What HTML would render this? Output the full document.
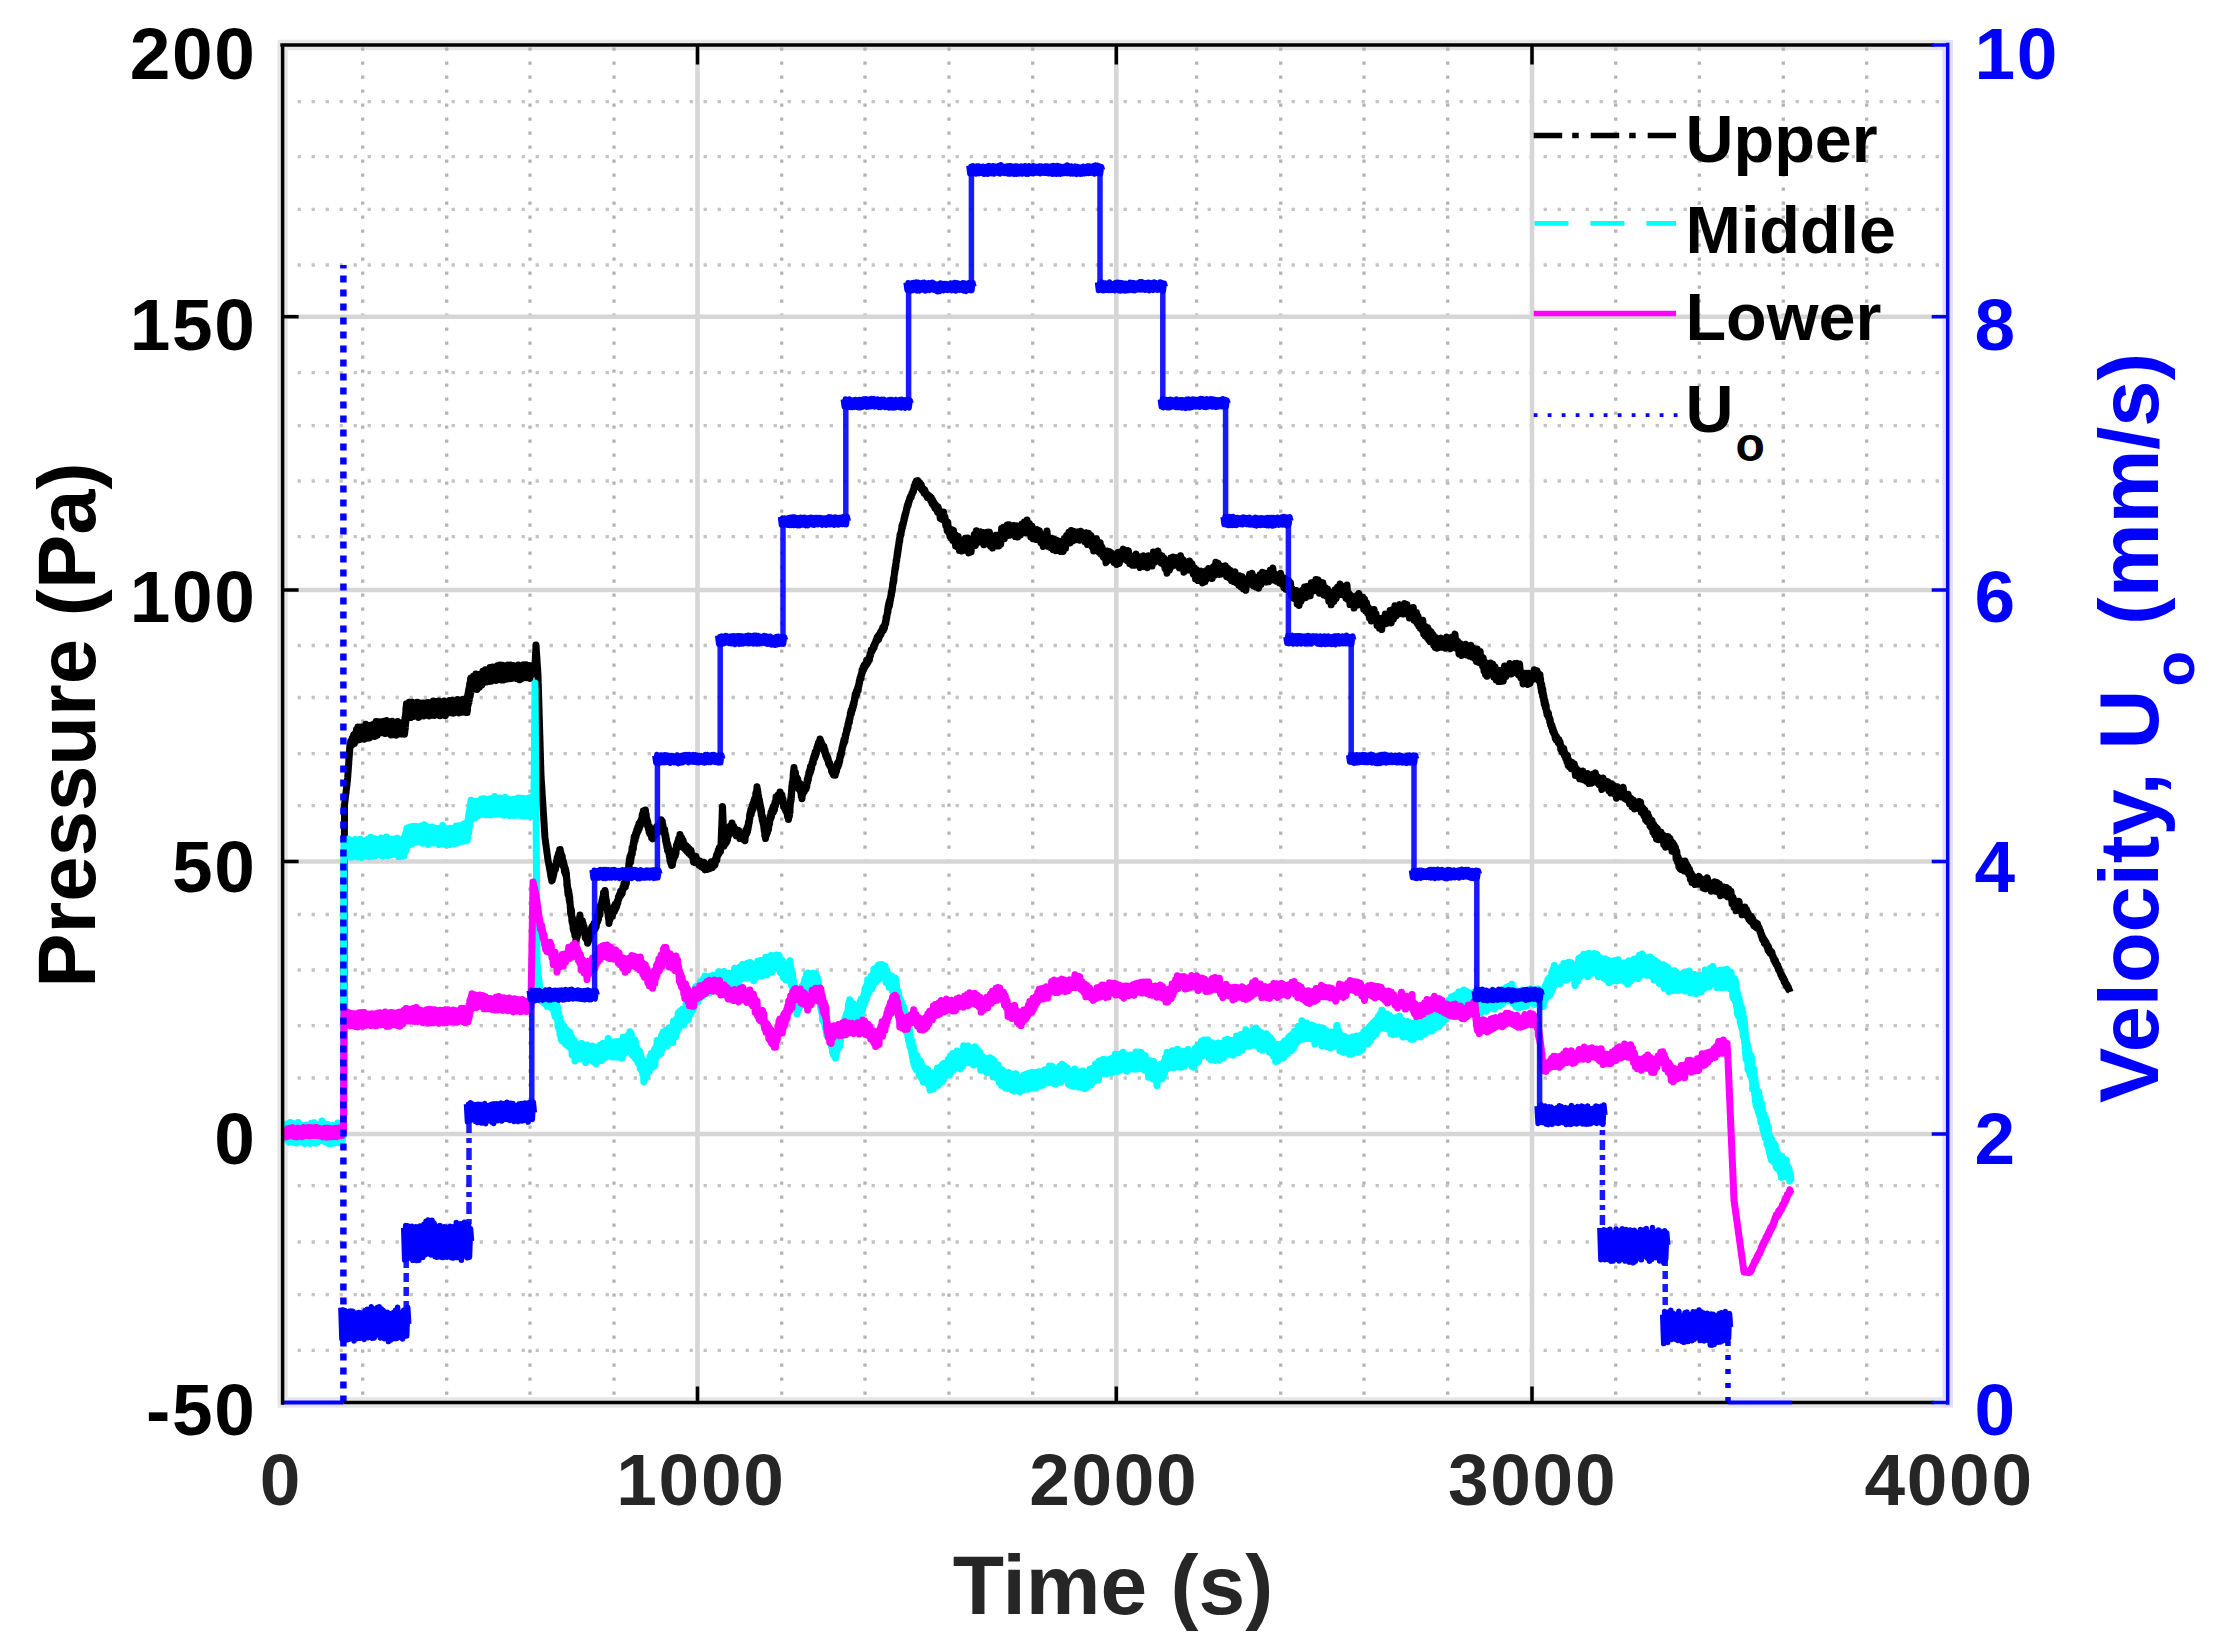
<!DOCTYPE html>
<html><head><meta charset="utf-8"><title>Pressure and velocity</title>
<style>html,body{margin:0;padding:0;background:#fff}svg{display:block}text{font-family:"Liberation Sans",sans-serif;font-weight:bold}</style></head>
<body>
<svg width="2220" height="1643" viewBox="0 0 2220 1643">
<rect width="2220" height="1643" fill="#fff"/>
<g fill="none" stroke-width="10.5">
<path d="M277.6 45.0H1947.7M277.6 1402.5H1947.7M282.6 45.0V1402.5" stroke="#e6e6e6"/>
<path d="M1947.7 40.0V1407.5" stroke="#dedeff"/>
</g>
<g stroke="#b4b4b4" stroke-width="3.3" stroke-dasharray="3.3 10.7" fill="none">
<line x1="362.7" y1="47.5" x2="362.7" y2="1402.5"/>
<line x1="446.7" y1="47.5" x2="446.7" y2="1402.5"/>
<line x1="530.0" y1="47.5" x2="530.0" y2="1402.5"/>
<line x1="614.0" y1="47.5" x2="614.0" y2="1402.5"/>
<line x1="781.7" y1="47.5" x2="781.7" y2="1402.5"/>
<line x1="865.0" y1="47.5" x2="865.0" y2="1402.5"/>
<line x1="949.0" y1="47.5" x2="949.0" y2="1402.5"/>
<line x1="1032.7" y1="47.5" x2="1032.7" y2="1402.5"/>
<line x1="1196.7" y1="47.5" x2="1196.7" y2="1402.5"/>
<line x1="1280.7" y1="47.5" x2="1280.7" y2="1402.5"/>
<line x1="1364.0" y1="47.5" x2="1364.0" y2="1402.5"/>
<line x1="1447.7" y1="47.5" x2="1447.7" y2="1402.5"/>
<line x1="1615.7" y1="47.5" x2="1615.7" y2="1402.5"/>
<line x1="1699.3" y1="47.5" x2="1699.3" y2="1402.5"/>
<line x1="1783.3" y1="47.5" x2="1783.3" y2="1402.5"/>
<line x1="1866.7" y1="47.5" x2="1866.7" y2="1402.5"/>
</g>
<g stroke="#c4c4c4" stroke-width="3.3" stroke-dasharray="3.3 10.7" fill="none">
<line x1="297.6" y1="101.7" x2="1947.7" y2="101.7"/>
<line x1="297.6" y1="156.7" x2="1947.7" y2="156.7"/>
<line x1="297.6" y1="209.3" x2="1947.7" y2="209.3"/>
<line x1="297.6" y1="265.0" x2="1947.7" y2="265.0"/>
<line x1="297.6" y1="372.7" x2="1947.7" y2="372.7"/>
<line x1="297.6" y1="425.7" x2="1947.7" y2="425.7"/>
<line x1="297.6" y1="481.0" x2="1947.7" y2="481.0"/>
<line x1="297.6" y1="536.7" x2="1947.7" y2="536.7"/>
<line x1="297.6" y1="645.5" x2="1947.7" y2="645.5"/>
<line x1="297.6" y1="697.5" x2="1947.7" y2="697.5"/>
<line x1="297.6" y1="753.7" x2="1947.7" y2="753.7"/>
<line x1="297.6" y1="805.7" x2="1947.7" y2="805.7"/>
<line x1="297.6" y1="914.5" x2="1947.7" y2="914.5"/>
<line x1="297.6" y1="970.0" x2="1947.7" y2="970.0"/>
<line x1="297.6" y1="1025.7" x2="1947.7" y2="1025.7"/>
<line x1="297.6" y1="1078.0" x2="1947.7" y2="1078.0"/>
<line x1="297.6" y1="1185.7" x2="1947.7" y2="1185.7"/>
<line x1="297.6" y1="1242.0" x2="1947.7" y2="1242.0"/>
<line x1="297.6" y1="1294.6" x2="1947.7" y2="1294.6"/>
<line x1="297.6" y1="1350.3" x2="1947.7" y2="1350.3"/>
</g>
<g stroke="#d6d6d6" stroke-width="4.6" fill="none">
<line x1="697.5" y1="45.0" x2="697.5" y2="1402.5"/>
<line x1="1116.3" y1="45.0" x2="1116.3" y2="1402.5"/>
<line x1="1532.0" y1="45.0" x2="1532.0" y2="1402.5"/>
<line x1="282.6" y1="316.7" x2="1947.7" y2="316.7"/>
<line x1="282.6" y1="590.0" x2="1947.7" y2="590.0"/>
<line x1="282.6" y1="861.5" x2="1947.7" y2="861.5"/>
<line x1="282.6" y1="1134.0" x2="1947.7" y2="1134.0"/>
</g>
<g fill="none" stroke-linejoin="round" stroke-linecap="butt">
<polyline stroke="#000" stroke-width="7" points="285.0,1132.0 286.3,1132.0 287.6,1132.0 288.9,1132.0 290.2,1132.0 291.5,1132.0 292.8,1132.0 294.1,1132.0 295.4,1132.0 296.7,1132.0 298.0,1132.0 299.3,1132.0 300.6,1132.0 301.9,1132.0 303.2,1132.0 304.5,1132.0 305.8,1132.0 307.1,1132.0 308.4,1132.0 309.7,1132.0 311.0,1132.0 312.3,1132.0 313.6,1132.0 314.9,1132.0 316.2,1132.0 317.5,1132.0 318.8,1132.0 320.1,1132.0 321.4,1132.0 322.7,1132.0 324.0,1132.0 325.3,1132.0 326.6,1132.0 327.9,1132.0 329.2,1132.0 330.5,1132.0 331.8,1132.0 333.1,1132.0 334.4,1132.0 335.7,1132.0 337.0,1132.0 338.3,1132.0 339.6,1132.0 340.9,1132.0 342.2,1132.0 343.5,1132.0 343.5,1130.7 343.5,1129.4 343.5,1128.1 343.5,1126.8 343.5,1125.5 343.5,1124.2 343.5,1122.9 343.5,1121.6 343.5,1120.3 343.5,1119.0 343.5,1117.7 343.5,1116.4 343.6,1115.1 343.6,1113.8 343.6,1112.5 343.6,1111.2 343.6,1109.9 343.6,1108.5 343.6,1107.2 343.6,1105.9 343.6,1104.6 343.6,1103.3 343.6,1102.0 343.6,1100.7 343.6,1099.4 343.6,1098.1 343.6,1096.8 343.6,1095.5 343.6,1094.2 343.6,1092.9 343.6,1091.6 343.6,1090.3 343.6,1089.0 343.6,1087.7 343.6,1086.4 343.6,1085.1 343.6,1083.8 343.7,1082.5 343.7,1081.2 343.7,1079.9 343.7,1078.6 343.7,1077.3 343.7,1076.0 343.7,1074.7 343.7,1073.4 343.7,1072.1 343.7,1070.8 343.7,1069.5 343.7,1068.2 343.7,1066.9 343.7,1065.6 343.7,1064.3 343.7,1063.0 343.7,1061.6 343.7,1060.3 343.7,1059.0 343.7,1057.7 343.7,1056.4 343.7,1055.1 343.7,1053.8 343.7,1052.5 343.7,1051.2 343.8,1049.9 343.8,1048.6 343.8,1047.3 343.8,1046.0 343.8,1044.7 343.8,1043.4 343.8,1042.1 343.8,1040.8 343.8,1039.5 343.8,1038.2 343.8,1036.9 343.8,1035.6 343.8,1034.3 343.8,1033.0 343.8,1031.7 343.8,1030.4 343.8,1029.1 343.8,1027.8 343.8,1026.5 343.8,1025.2 343.8,1023.9 343.8,1022.6 343.8,1021.3 343.8,1020.0 343.8,1018.7 343.9,1017.4 343.9,1016.1 343.9,1014.7 343.9,1013.4 343.9,1012.1 343.9,1010.8 343.9,1009.5 343.9,1008.2 343.9,1006.9 343.9,1005.6 343.9,1004.3 343.9,1003.0 343.9,1001.7 343.9,1000.4 343.9,999.1 343.9,997.8 343.9,996.5 343.9,995.2 343.9,993.9 343.9,992.6 343.9,991.3 343.9,990.0 343.9,988.7 343.9,987.4 343.9,986.1 344.0,984.8 344.0,983.5 344.0,982.2 344.0,980.9 344.0,979.6 344.0,978.3 344.0,977.0 344.0,975.7 344.0,974.4 344.0,973.1 344.0,971.8 344.0,970.5 344.0,969.2 344.0,967.8 344.0,966.5 344.0,965.2 344.0,963.9 344.0,962.6 344.0,961.3 344.0,960.0 344.0,958.7 344.0,957.4 344.0,956.1 344.0,954.8 344.0,953.5 344.0,952.2 344.1,950.9 344.1,949.6 344.1,948.3 344.1,947.0 344.1,945.7 344.1,944.4 344.1,943.1 344.1,941.8 344.1,940.5 344.1,939.2 344.1,937.9 344.1,936.6 344.1,935.3 344.1,934.0 344.1,932.7 344.1,931.4 344.1,930.1 344.1,928.8 344.1,927.5 344.1,926.2 344.1,924.9 344.1,923.6 344.1,922.3 344.1,920.9 344.1,919.6 344.2,918.3 344.2,917.0 344.2,915.7 344.2,914.4 344.2,913.1 344.2,911.8 344.2,910.5 344.2,909.2 344.2,907.9 344.2,906.6 344.2,905.3 344.2,904.0 344.2,902.7 344.2,901.4 344.2,900.1 344.2,898.8 344.2,897.5 344.2,896.2 344.2,894.9 344.2,893.6 344.2,892.3 344.2,891.0 344.2,889.7 344.2,888.4 344.2,887.1 344.3,885.8 344.3,884.5 344.3,883.2 344.3,881.9 344.3,880.6 344.3,879.3 344.3,878.0 344.3,876.7 344.3,875.4 344.3,874.0 344.3,872.7 344.3,871.4 344.3,870.1 344.3,868.8 344.3,867.5 344.3,866.2 344.3,864.9 344.3,863.6 344.3,862.3 344.3,861.0 344.3,859.7 344.3,858.4 344.3,857.1 344.3,855.8 344.3,854.5 344.4,853.2 344.4,851.9 344.4,850.6 344.4,849.3 344.4,848.0 344.4,846.7 344.4,845.4 344.4,844.1 344.4,842.8 344.4,841.5 344.4,840.2 344.4,838.9 344.4,837.6 344.4,836.3 344.4,835.0 344.4,833.7 344.4,832.4 344.4,831.1 344.4,829.8 344.4,828.5 344.4,827.1 344.4,825.8 344.4,824.5 344.4,823.2 344.4,821.9 344.5,820.6 344.5,819.3 344.5,818.0 344.5,816.7 344.5,815.4 344.5,814.1 344.5,812.8 344.5,811.5 344.5,810.2 344.5,808.9 344.5,807.6 344.5,806.3 344.5,805.0 344.7,803.7 344.8,802.4 345.0,801.1 345.1,799.7 345.3,798.4 345.4,797.1 345.6,795.8 345.8,794.5 345.9,793.2 346.1,791.8 346.2,790.5 346.4,789.2 346.6,787.9 346.7,786.6 346.9,785.3 347.0,783.9 347.2,782.6 347.3,781.3 347.5,780.0 347.6,778.6 347.7,777.5 347.8,775.7 347.9,774.9 348.0,772.9 348.1,772.3 348.2,769.9 348.3,769.8 348.4,767.2 348.5,767.5 348.6,764.4 348.7,764.8 348.8,761.7 348.8,762.4 348.9,758.6 349.0,759.9 349.1,755.6 349.2,757.0 349.3,753.0 349.4,755.1 349.5,750.3 349.6,752.1 349.7,747.1 349.8,749.6 349.9,745.0 350.0,747.1 350.7,741.2 351.5,745.6 352.2,738.3 352.9,744.3 353.6,735.1 354.4,743.6 355.1,733.4 355.8,741.0 356.5,729.5 357.3,739.7 358.0,727.1 359.3,739.8 360.6,727.0 361.9,738.5 363.2,726.8 364.5,739.3 365.8,724.3 367.1,738.2 368.4,726.1 369.6,737.9 370.9,725.3 372.2,735.7 373.5,724.3 374.8,736.5 376.1,721.4 377.4,735.2 378.7,721.8 380.0,732.4 381.4,721.7 382.7,732.8 384.1,721.3 385.4,733.6 386.8,720.5 388.2,732.1 389.5,722.0 390.9,735.0 392.2,721.3 393.6,734.7 395.0,723.4 396.3,735.2 397.7,721.6 399.1,733.9 400.4,722.9 401.8,734.0 403.1,722.2 404.5,734.2 404.7,720.4 404.8,732.5 405.0,717.6 405.1,729.7 405.3,716.4 405.4,727.9 405.6,713.4 405.7,723.2 405.9,708.6 406.0,721.3 406.2,706.1 406.3,719.5 406.5,703.7 407.8,717.4 409.2,702.3 410.5,717.6 411.9,702.3 413.2,716.6 414.5,703.0 415.9,716.0 417.2,702.3 418.6,717.4 419.9,702.9 421.2,716.0 422.6,703.0 423.9,715.9 425.3,703.0 426.6,715.2 427.9,702.4 429.3,715.9 430.6,702.4 432.0,715.3 433.3,701.1 434.6,715.4 436.0,701.6 437.3,714.8 438.7,700.9 440.0,715.8 441.4,701.9 442.7,714.1 444.1,701.0 445.4,715.7 446.8,701.9 448.1,712.4 449.4,700.6 450.8,712.8 452.1,700.2 453.5,713.2 454.9,701.0 456.2,711.8 457.6,699.5 458.9,712.9 460.2,700.6 461.6,712.3 462.9,699.2 464.3,712.2 465.6,699.6 467.0,712.6 467.2,697.3 467.5,710.3 467.7,695.1 467.9,705.8 468.2,692.4 468.4,703.9 468.6,689.9 468.9,702.4 469.1,687.8 469.4,699.4 469.6,683.9 469.8,697.0 470.1,682.4 470.3,695.6 470.5,679.1 470.8,692.7 471.0,677.9 472.2,689.6 473.4,676.3 474.6,688.7 475.8,674.0 477.0,689.6 478.1,674.6 479.3,687.4 480.5,674.3 481.7,685.3 482.9,671.3 484.1,682.6 485.3,669.8 486.5,682.1 487.7,670.0 488.9,681.6 490.0,667.5 491.2,681.2 492.4,666.9 493.6,679.3 494.8,667.4 496.0,680.4 497.3,665.7 498.6,679.0 499.9,665.0 501.2,680.0 502.5,665.3 503.8,680.0 505.2,666.5 506.5,679.2 507.8,665.0 509.1,678.8 510.4,665.0 511.7,678.5 513.0,665.4 514.3,678.0 515.6,666.7 516.9,678.5 518.2,665.1 519.5,679.8 520.8,666.1 522.2,678.5 523.5,664.8 524.8,677.0 526.1,664.7 527.4,677.8 528.7,665.6 530.0,678.5 531.2,665.8 532.5,674.6 533.8,665.1 535.0,671.2 535.1,663.9 535.1,668.2 535.2,660.8 535.2,664.9 535.3,658.6 535.4,662.0 535.4,656.7 535.5,659.0 535.5,654.1 535.6,655.9 535.6,652.3 535.7,652.8 535.8,649.8 535.8,649.6 535.9,647.4 535.9,646.5 536.0,645.0 536.1,646.3 536.2,647.6 536.3,648.9 536.3,650.2 536.4,651.5 536.5,652.8 536.6,654.1 536.7,655.4 536.8,656.7 536.9,658.0 537.0,659.3 537.0,660.7 537.1,662.0 537.2,663.3 537.3,664.6 537.4,665.9 537.5,667.2 537.6,668.5 537.7,669.8 537.7,671.1 537.8,672.4 537.9,673.7 538.0,675.0 538.0,676.3 538.1,677.6 538.1,678.9 538.2,680.3 538.2,681.6 538.2,682.9 538.3,684.2 538.3,685.5 538.4,686.8 538.4,688.2 538.4,689.5 538.5,690.8 538.5,692.1 538.6,693.4 538.6,694.7 538.6,696.1 538.7,697.4 538.7,698.7 538.8,700.0 538.8,701.3 538.8,702.6 538.9,703.9 538.9,705.3 538.9,706.6 539.0,707.9 539.0,709.2 539.1,710.5 539.1,711.8 539.1,713.2 539.2,714.5 539.2,715.8 539.3,717.1 539.3,718.4 539.3,719.7 539.4,721.1 539.4,722.4 539.5,723.7 539.5,725.0 539.5,726.3 539.6,727.6 539.6,728.9 539.7,730.3 539.7,731.6 539.7,732.9 539.8,734.2 539.8,735.5 539.9,736.8 539.9,738.2 539.9,739.5 540.0,740.8 540.0,742.1 540.1,743.4 540.1,744.7 540.1,746.1 540.2,747.4 540.2,748.7 540.2,750.0 540.3,751.3 540.3,752.6 540.4,753.9 540.4,755.3 540.4,756.6 540.5,757.9 540.5,759.2 540.6,760.5 540.6,761.8 540.6,763.2 540.7,764.5 540.7,765.8 540.8,767.1 540.8,768.4 540.8,769.7 540.9,771.1 540.9,772.4 541.0,773.7 541.0,775.0 541.1,776.3 541.2,777.6 541.2,778.9 541.3,780.2 541.4,781.6 541.5,782.9 541.6,784.2 541.7,785.5 541.8,786.8 541.8,788.1 541.9,789.4 542.0,790.8 542.1,792.1 542.2,793.4 542.2,794.7 542.3,796.0 542.4,797.3 542.5,798.6 542.6,799.9 542.7,801.2 542.8,802.6 542.8,803.9 542.9,805.2 543.0,806.5 543.1,807.8 543.2,809.1 543.2,810.4 543.3,811.8 543.4,813.1 543.5,814.4 543.6,815.7 543.7,817.0 543.8,818.3 543.8,819.6 543.9,820.9 544.0,822.2 544.1,823.6 544.2,824.9 544.2,826.2 544.3,827.5 544.4,828.8 544.5,830.1 544.6,831.4 544.7,832.8 544.8,834.1 544.8,835.4 544.9,836.7 545.0,838.0 545.2,839.3 545.4,840.6 545.5,841.9 545.7,843.2 545.9,844.5 546.1,845.8 546.2,847.1 546.4,848.4 546.6,849.6 546.8,850.9 546.9,852.2 547.1,853.5 547.3,854.8 547.5,856.1 547.6,857.4 547.8,858.7 548.0,860.0 548.2,861.2 548.5,862.6 548.7,863.6 548.9,865.2 549.2,866.1 549.4,867.9 549.6,868.4 549.9,870.4 550.1,870.9 550.4,873.4 550.6,873.7 550.8,876.2 551.1,875.8 551.3,878.5 551.5,878.1 551.8,880.9 552.0,880.6 552.3,880.4 552.6,877.5 553.0,877.8 553.3,874.4 553.6,875.8 553.9,871.8 554.2,872.4 554.6,867.9 554.9,869.8 555.2,865.5 555.5,869.3 555.8,864.6 556.2,866.6 556.5,861.1 556.8,862.7 557.1,858.0 557.4,860.5 557.8,856.0 558.1,859.3 558.4,853.8 558.7,859.0 559.0,852.4 559.4,854.7 559.7,849.8 560.0,853.7 560.3,849.6 560.6,856.2 560.9,852.4 561.3,859.0 561.6,855.1 561.9,861.8 562.2,856.0 562.5,862.6 562.8,859.9 563.2,866.0 563.5,861.6 563.8,867.2 564.1,864.2 564.4,871.3 564.7,866.8 565.1,873.4 565.4,868.5 565.7,874.7 566.0,870.9 566.2,876.6 566.4,873.2 566.6,879.5 566.7,877.3 566.9,885.4 567.1,880.6 567.3,887.4 567.5,885.0 567.7,891.8 567.9,888.3 568.0,894.4 568.2,889.2 568.4,895.0 568.6,890.4 568.8,896.6 569.0,892.9 569.1,899.4 569.3,894.6 569.5,901.5 569.7,896.9 569.9,903.3 570.1,901.8 570.3,908.0 570.4,905.5 570.6,913.2 570.8,908.1 571.0,914.9 571.2,909.3 571.4,914.8 571.6,911.0 571.8,920.8 572.0,916.7 572.2,922.6 572.5,918.1 572.7,923.7 572.9,921.3 573.1,928.3 573.3,923.5 573.5,930.1 573.7,926.5 573.9,930.2 574.1,927.1 574.3,932.3 574.5,928.1 574.8,935.4 575.0,930.4 575.2,934.9 575.4,931.9 575.6,936.7 575.8,935.9 576.0,943.1 576.2,936.1 576.4,939.8 576.6,934.2 576.8,937.8 577.1,932.0 577.3,936.7 577.5,930.2 577.7,934.6 577.9,927.4 578.1,931.8 578.3,926.8 578.5,929.4 578.7,923.4 578.9,926.0 579.2,921.7 579.4,924.0 579.6,917.1 579.8,921.4 580.0,915.1 580.4,922.7 580.8,919.4 581.2,924.3 581.6,921.1 582.0,926.3 582.4,920.7 582.8,927.4 583.2,923.7 583.6,930.2 584.0,926.3 584.4,933.5 584.8,930.8 585.2,937.6 585.6,933.0 586.0,938.7 586.4,933.1 586.8,939.2 587.2,937.2 587.6,943.2 588.0,938.7 588.5,941.5 589.0,935.9 589.5,939.3 590.0,933.6 590.5,936.4 591.0,928.7 591.5,933.1 592.0,926.7 592.5,932.0 593.0,925.5 593.5,929.8 594.0,923.5 594.5,929.6 595.0,924.0 595.4,928.4 595.8,922.8 596.2,926.9 596.5,920.4 596.9,923.3 597.3,916.8 597.7,921.6 598.1,915.5 598.5,919.4 598.8,911.6 599.2,916.4 599.6,909.0 600.0,914.6 600.4,905.5 600.8,908.2 601.2,904.0 601.5,908.3 601.9,900.7 602.3,904.4 602.7,897.6 603.1,900.3 603.5,892.7 603.8,898.4 604.2,892.4 604.6,896.2 605.0,890.6 605.2,896.6 605.4,892.5 605.6,900.0 605.8,897.2 606.0,903.8 606.1,899.8 606.3,905.9 606.5,900.6 606.7,907.5 606.9,903.8 607.1,909.5 607.3,905.8 607.5,912.0 607.7,907.6 607.9,913.9 608.0,910.1 608.2,916.9 608.4,912.0 608.6,919.1 608.8,916.1 609.0,923.5 609.6,917.8 610.1,919.7 610.7,913.3 611.2,916.7 611.8,913.2 612.3,916.9 612.9,910.1 613.4,913.2 614.0,906.7 614.5,911.4 615.1,904.6 615.6,909.1 616.2,903.6 616.7,906.8 617.3,900.9 617.8,903.5 618.4,897.1 618.9,899.3 619.5,894.4 620.0,896.7 620.6,891.2 621.1,895.2 621.7,890.2 622.2,893.7 622.8,887.6 623.3,889.4 623.9,883.5 624.4,887.8 625.0,883.1 625.3,886.8 625.5,881.2 625.8,884.9 626.1,878.8 626.4,883.2 626.6,877.1 626.9,879.3 627.2,873.7 627.4,876.4 627.7,870.4 628.0,875.6 628.2,868.6 628.5,870.6 628.8,863.8 629.1,866.7 629.3,859.6 629.6,863.4 629.9,856.7 630.1,861.9 630.4,856.6 630.7,862.0 630.9,854.2 631.2,858.4 631.5,852.4 631.8,854.9 632.0,848.0 632.3,853.8 632.6,847.4 632.8,850.1 633.1,844.1 633.4,848.7 633.6,841.1 633.9,844.5 634.2,836.8 634.5,841.5 634.7,836.3 635.0,840.6 635.6,833.6 636.1,837.0 636.7,830.0 637.2,833.3 637.8,826.9 638.3,831.0 638.9,823.8 639.4,828.5 640.0,822.3 640.6,825.3 641.1,820.0 641.7,822.4 642.2,814.7 642.8,818.5 643.3,811.1 643.9,816.2 644.4,810.4 645.0,813.1 645.4,810.0 645.8,815.9 646.2,813.9 646.6,821.4 647.1,819.2 647.5,825.8 647.9,822.0 648.3,828.6 648.7,826.9 649.1,832.0 649.5,826.4 649.9,833.7 650.4,828.1 650.8,833.8 651.2,830.6 651.6,837.9 652.0,834.7 652.8,838.9 653.5,834.3 654.3,836.6 655.1,830.5 655.8,834.2 656.6,826.8 657.4,832.7 658.2,825.4 658.9,829.7 659.7,823.2 660.5,826.8 661.2,819.8 662.0,824.7 662.3,821.2 662.6,828.9 662.9,824.7 663.2,831.0 663.5,828.5 663.8,833.1 664.1,828.8 664.4,832.6 664.7,829.5 665.0,836.9 665.3,833.6 665.6,841.0 665.9,835.6 666.2,843.5 666.5,839.2 666.8,846.8 667.2,842.8 667.5,850.4 667.8,844.7 668.1,851.1 668.4,847.1 668.7,853.1 669.0,849.5 669.3,856.3 669.6,852.7 669.9,860.2 670.2,856.1 670.5,862.4 670.8,856.6 671.1,864.2 671.4,859.4 671.7,865.5 672.0,861.9 672.4,865.1 672.7,857.8 673.1,861.0 673.5,855.4 673.8,858.8 674.2,851.3 674.5,856.8 674.9,850.9 675.3,855.9 675.6,849.2 676.0,853.4 676.4,845.5 676.7,848.2 677.1,843.7 677.5,847.8 677.8,841.8 678.2,847.4 678.5,839.1 678.9,842.5 679.3,837.4 679.6,841.3 680.0,834.4 680.8,839.6 681.6,837.5 682.4,843.9 683.2,840.3 683.9,847.9 684.7,844.1 685.5,849.7 686.3,845.6 687.1,851.4 687.9,847.3 688.7,853.2 689.5,848.9 690.3,854.9 691.1,850.3 691.8,856.3 692.6,855.2 693.4,861.7 694.2,856.8 695.0,862.8 696.0,856.3 697.0,862.6 698.0,860.1 699.0,865.1 700.0,860.8 701.0,866.4 702.0,862.5 703.0,867.7 704.0,862.3 705.0,869.9 706.2,864.4 707.5,869.4 708.8,864.0 710.0,868.6 711.2,861.8 712.5,867.6 713.8,862.0 715.0,865.2 715.5,858.8 715.9,861.1 716.4,855.6 716.8,860.3 717.3,853.4 717.8,856.0 718.2,850.5 718.7,854.3 719.2,848.0 719.6,851.4 720.1,846.9 720.5,851.5 721.0,844.2 721.1,847.3 721.1,841.3 721.2,844.6 721.2,838.0 721.3,842.2 721.3,835.5 721.4,838.7 721.4,832.7 721.5,836.9 721.5,829.0 721.6,833.4 721.6,827.2 721.7,831.1 721.7,826.2 721.8,830.1 721.8,823.7 721.9,827.5 721.9,820.5 722.0,826.0 722.0,819.0 722.1,821.5 722.1,814.7 722.2,818.2 722.2,811.5 722.3,815.7 722.3,808.8 722.4,813.0 722.4,806.5 722.5,810.4 722.6,807.0 722.6,814.4 722.7,810.2 722.7,815.9 722.8,813.3 722.8,819.3 722.9,814.5 722.9,819.8 723.0,816.8 723.0,823.6 723.1,819.7 723.1,827.1 723.2,821.4 723.2,826.2 723.3,824.1 723.3,830.1 723.4,825.7 723.4,832.9 723.5,829.2 723.5,834.9 723.6,832.5 723.6,839.4 723.7,836.4 723.7,841.9 723.8,838.3 723.8,843.6 723.9,839.2 723.9,846.3 724.0,841.1 724.5,845.1 725.0,839.7 725.5,843.7 726.0,836.3 726.5,842.0 727.0,837.4 727.5,840.3 728.0,832.5 728.5,836.1 729.0,830.2 729.5,832.4 730.0,826.2 730.5,830.5 731.0,825.2 731.5,829.1 732.0,823.1 732.9,829.9 733.7,826.2 734.6,833.5 735.5,828.9 736.3,835.8 737.2,830.8 738.1,835.8 738.9,830.5 739.8,838.5 740.7,832.7 741.5,838.6 742.4,835.6 743.3,839.6 744.1,835.7 745.0,840.7 745.3,832.7 745.6,836.0 745.9,830.1 746.2,833.6 746.5,831.0 746.8,833.5 747.2,827.6 747.5,831.8 747.8,826.0 748.1,829.2 748.4,822.4 748.7,825.8 749.0,820.6 749.3,822.5 749.6,814.9 749.9,818.5 750.2,812.2 750.5,815.4 750.8,809.8 751.2,814.7 751.5,808.6 751.8,812.2 752.1,806.0 752.4,809.9 752.7,804.3 753.0,809.0 753.3,802.8 753.6,806.9 753.9,801.1 754.2,805.5 754.5,799.1 754.8,804.4 755.2,798.3 755.5,800.4 755.8,793.2 756.1,796.0 756.4,791.4 756.7,793.0 757.0,786.8 757.2,792.1 757.5,789.3 757.8,796.2 758.0,792.3 758.2,799.2 758.5,795.7 758.8,802.3 759.0,798.7 759.2,803.7 759.5,800.1 759.8,805.2 760.0,802.8 760.2,808.9 760.5,805.5 760.8,811.7 761.0,807.4 761.2,815.0 761.5,810.2 761.8,817.4 762.0,814.9 762.2,820.2 762.5,816.2 762.8,822.2 763.0,818.6 763.2,823.9 763.5,820.5 763.8,827.6 764.0,823.1 764.2,830.7 764.5,827.2 764.8,835.5 765.0,833.4 765.5,838.6 766.0,831.0 766.5,835.0 767.0,827.5 767.5,832.4 768.0,825.4 768.5,829.5 769.0,822.1 769.5,824.6 770.0,816.5 770.5,819.6 771.0,812.5 771.5,816.8 772.0,810.0 772.5,813.3 773.0,806.9 773.5,811.9 774.0,805.5 774.5,809.7 775.0,802.2 775.5,805.8 776.0,797.1 776.5,802.5 777.0,796.8 777.5,798.7 778.0,795.0 778.5,801.1 779.0,795.3 779.5,798.6 780.0,791.9 780.5,797.2 781.0,795.2 781.5,800.5 782.0,795.1 782.5,802.1 783.0,798.9 783.5,806.4 784.0,802.9 784.5,808.1 785.0,805.1 785.5,810.4 786.0,806.6 786.5,812.1 787.0,809.3 787.5,816.4 788.0,812.7 788.5,819.5 789.0,814.1 789.1,816.7 789.3,810.2 789.4,816.1 789.6,809.9 789.7,814.4 789.8,807.6 790.0,811.8 790.1,804.4 790.2,806.7 790.4,800.7 790.5,803.0 790.7,798.6 790.8,801.6 790.9,796.8 791.1,800.5 791.2,794.1 791.4,798.5 791.5,790.3 791.6,794.9 791.8,786.4 791.9,790.5 792.1,784.6 792.2,790.0 792.3,782.6 792.5,788.4 792.6,782.4 792.8,785.8 792.9,778.8 793.0,782.2 793.2,773.9 793.3,778.8 793.4,772.1 793.6,775.0 793.7,769.7 793.9,772.9 794.0,767.5 794.4,772.3 794.8,770.8 795.1,777.8 795.5,772.6 795.9,780.0 796.3,778.4 796.7,782.6 797.0,777.7 797.4,784.0 797.8,779.3 798.2,785.5 798.6,782.2 799.0,789.1 799.3,784.6 799.7,787.7 800.1,783.8 800.5,791.9 800.9,788.8 801.2,796.0 801.6,792.7 802.0,798.7 802.4,791.5 802.8,794.6 803.2,788.7 803.6,790.9 804.0,786.8 804.4,791.5 804.8,786.0 805.2,789.6 805.6,784.9 806.0,788.9 806.4,783.6 806.8,786.7 807.2,779.6 807.6,782.6 808.0,776.8 808.4,779.7 808.8,772.8 809.2,775.6 809.6,770.3 810.0,773.4 810.4,766.7 810.8,771.2 811.2,765.5 811.6,768.6 812.0,763.1 812.4,764.6 812.8,760.0 813.2,763.3 813.6,757.2 814.0,758.7 814.4,754.7 814.8,757.9 815.2,752.1 815.6,756.0 816.0,751.5 816.4,753.8 816.8,747.9 817.2,750.7 817.6,745.5 818.0,748.3 818.4,743.1 818.8,745.7 819.2,741.4 819.6,743.8 820.0,739.1 820.5,743.7 821.0,740.9 821.5,745.7 822.0,743.8 822.5,748.3 823.0,745.1 823.5,748.9 824.0,746.5 824.5,752.0 825.0,749.6 825.5,755.3 826.0,753.4 826.5,757.8 827.0,755.7 827.5,759.8 828.0,757.8 828.5,763.5 829.0,761.3 829.5,765.4 830.0,763.5 830.5,767.1 831.0,765.7 831.5,770.8 832.0,768.0 832.5,772.9 833.0,770.3 833.5,775.0 834.0,771.8 834.5,775.0 835.0,773.5 835.3,775.3 835.6,770.7 836.0,773.1 836.3,769.0 836.6,771.1 836.9,766.3 837.2,767.6 837.6,762.9 837.9,767.1 838.2,762.4 838.5,765.4 838.8,761.3 839.1,763.8 839.5,758.4 839.8,761.0 840.1,754.9 840.4,757.2 840.7,753.4 841.1,755.8 841.4,751.2 841.7,753.4 842.0,747.9 842.3,749.5 842.7,745.0 843.0,746.6 843.3,742.4 843.6,744.4 843.9,739.7 844.3,742.7 844.6,739.1 844.9,741.4 845.2,735.4 845.5,738.0 845.9,733.4 846.2,734.7 846.5,730.2 846.8,732.0 847.1,727.9 847.4,730.1 847.8,724.8 848.1,727.5 848.4,722.4 848.7,724.1 849.0,719.7 849.4,722.3 849.7,717.4 850.0,719.0 850.3,713.6 850.7,715.6 851.0,710.4 851.4,713.9 851.7,709.2 852.1,711.3 852.4,706.8 852.7,709.1 853.1,704.3 853.4,706.7 853.8,701.9 854.1,704.0 854.5,698.3 854.8,700.1 855.1,694.6 855.5,695.8 855.8,693.1 856.2,695.9 856.5,691.1 856.9,694.0 857.2,689.6 857.5,691.2 857.9,686.9 858.2,690.4 858.6,684.6 858.9,686.2 859.3,681.0 859.6,683.0 859.9,678.4 860.3,680.1 860.6,676.2 861.0,678.7 861.3,674.3 861.7,675.1 862.0,670.2 862.6,672.3 863.1,667.3 863.7,669.7 864.3,665.0 864.9,667.4 865.5,663.9 866.0,665.5 866.6,660.3 867.2,664.0 867.8,660.1 868.3,662.1 868.9,657.7 869.5,659.9 870.0,654.1 870.6,655.7 871.2,650.1 871.8,651.9 872.4,649.2 872.9,649.7 873.5,646.1 874.1,647.7 874.6,643.7 875.2,644.4 875.8,640.7 876.4,641.7 877.0,637.6 877.5,640.6 878.1,636.1 878.7,639.3 879.2,634.7 879.8,636.5 880.4,632.2 881.0,634.7 881.5,630.4 882.1,632.1 882.7,627.6 883.3,630.8 883.9,626.2 884.4,628.5 885.0,623.6 885.3,624.9 885.5,621.4 885.8,623.6 886.0,617.3 886.3,620.4 886.6,617.4 886.8,617.9 887.1,613.7 887.3,614.7 887.6,609.5 887.9,612.3 888.1,606.6 888.4,608.9 888.6,603.9 888.9,606.4 889.1,602.1 889.4,606.0 889.7,600.3 889.9,603.5 890.2,599.1 890.4,600.6 890.7,596.1 891.0,597.5 891.2,592.6 891.5,595.0 891.7,590.4 892.0,592.2 892.2,587.7 892.4,589.9 892.6,584.1 892.8,586.2 893.0,582.0 893.2,583.6 893.4,578.5 893.6,582.0 893.8,577.4 894.0,579.8 894.1,575.5 894.3,575.8 894.5,571.7 894.7,573.3 894.9,568.4 895.1,570.7 895.3,566.6 895.5,568.8 895.7,564.1 895.9,566.3 896.1,560.5 896.3,562.5 896.5,558.9 896.7,560.6 896.9,555.7 897.1,557.5 897.3,552.4 897.5,555.4 897.7,550.1 897.9,552.6 898.0,548.2 898.2,550.5 898.4,545.8 898.6,548.0 898.8,542.8 899.0,545.2 899.2,540.1 899.4,542.2 899.6,538.5 899.8,541.0 900.0,534.7 900.3,536.9 900.6,533.2 901.0,535.1 901.3,530.3 901.6,531.5 901.9,526.1 902.3,528.4 902.6,524.0 902.9,526.0 903.2,522.7 903.5,523.5 903.9,518.8 904.2,520.7 904.5,516.3 904.8,518.0 905.2,513.9 905.5,515.1 905.8,511.9 906.1,512.8 906.5,508.8 906.8,509.6 907.1,506.2 907.4,507.1 907.7,504.3 908.1,505.9 908.4,502.2 908.7,503.6 909.0,500.8 909.4,500.9 909.7,498.3 910.0,499.1 910.6,496.2 911.2,497.4 911.8,493.5 912.3,494.0 912.9,490.9 913.5,491.6 914.1,486.3 914.7,487.5 915.2,483.3 915.8,485.2 916.4,481.1 917.0,483.0 917.9,480.5 918.7,484.1 919.6,482.3 920.5,488.1 921.3,484.5 922.2,490.3 923.1,488.5 923.9,492.8 924.8,489.8 925.7,494.6 926.5,493.2 927.4,497.5 928.3,495.0 929.1,498.5 930.0,496.2 930.7,500.8 931.4,497.6 932.0,503.5 932.7,500.0 933.4,505.3 934.1,502.7 934.8,508.0 935.5,504.4 936.1,509.4 936.8,506.0 937.5,512.1 938.2,507.0 938.9,513.1 939.5,510.5 940.2,518.1 940.9,512.9 941.6,519.1 942.3,514.0 943.0,519.5 943.6,512.0 944.3,520.5 945.0,516.8 945.7,525.4 946.4,520.9 947.1,530.4 947.8,522.2 948.5,532.3 949.2,528.3 949.9,536.3 950.6,530.1 951.4,538.3 952.1,529.7 952.8,540.6 953.5,530.6 954.2,541.5 954.9,534.5 955.6,546.1 956.3,535.4 957.0,546.7 958.2,536.6 959.4,550.5 960.5,539.9 961.7,551.1 962.9,541.1 964.1,550.2 965.3,538.2 966.5,550.2 967.6,538.0 968.8,553.0 970.0,541.0 971.1,552.0 972.1,540.9 973.2,546.2 974.3,534.4 975.4,545.5 976.4,530.7 977.5,540.0 978.6,531.9 979.6,541.9 980.7,531.7 981.8,541.1 982.9,532.5 983.9,544.8 985.0,535.4 986.1,542.3 987.2,532.2 988.3,540.6 989.4,532.1 990.5,546.2 991.5,537.7 992.6,548.1 993.7,539.1 994.8,545.0 995.9,535.3 997.0,546.1 997.9,538.5 998.9,546.1 999.8,534.4 1000.7,544.3 1001.6,528.6 1002.6,538.5 1003.5,527.3 1004.4,538.7 1005.4,527.5 1006.3,534.7 1007.2,525.0 1008.1,535.5 1009.1,524.8 1010.0,535.2 1011.3,529.2 1012.6,534.5 1013.9,525.5 1015.2,536.6 1016.5,525.8 1017.8,537.0 1019.2,529.6 1020.5,535.2 1021.8,524.0 1023.1,532.4 1024.4,522.0 1025.7,532.9 1027.0,519.9 1028.2,530.3 1029.5,523.5 1030.8,537.0 1032.0,526.2 1033.2,538.8 1034.5,531.9 1035.8,539.4 1037.0,529.4 1038.2,539.7 1039.5,530.8 1040.8,542.7 1042.0,536.4 1043.2,546.6 1044.5,534.6 1045.8,542.6 1047.0,530.9 1048.2,546.6 1049.5,538.1 1050.8,547.7 1052.0,538.2 1053.2,549.8 1054.5,539.2 1055.8,550.7 1057.0,540.2 1058.2,550.6 1059.5,541.6 1060.8,551.6 1062.0,541.2 1063.2,551.4 1064.3,538.5 1065.5,548.5 1066.6,535.6 1067.8,543.5 1068.9,532.2 1070.1,542.9 1071.2,530.5 1072.4,541.1 1073.5,531.2 1074.7,540.1 1075.8,532.1 1077.0,538.0 1078.3,531.9 1079.6,540.2 1080.9,531.2 1082.2,539.6 1083.5,534.3 1084.8,541.7 1086.1,532.8 1087.4,544.6 1088.7,533.2 1090.0,544.1 1090.9,535.6 1091.8,546.4 1092.8,539.5 1093.7,551.1 1094.6,538.9 1095.5,548.7 1096.5,538.8 1097.4,548.5 1098.3,543.5 1099.2,552.4 1100.2,542.7 1101.1,554.1 1102.0,546.9 1103.3,557.1 1104.7,551.3 1106.0,562.8 1107.3,551.0 1108.7,560.2 1110.0,551.7 1111.3,558.3 1112.7,553.5 1114.0,562.6 1115.3,554.3 1116.7,564.5 1118.0,552.6 1119.3,563.5 1120.7,551.7 1122.0,559.6 1123.3,549.1 1124.6,559.1 1125.9,550.5 1127.1,560.7 1128.4,550.6 1129.7,563.6 1131.0,555.6 1132.3,565.2 1133.6,556.8 1134.9,565.2 1136.1,554.1 1137.4,563.5 1138.7,556.8 1140.0,567.5 1141.2,556.7 1142.4,566.5 1143.6,555.7 1144.9,566.6 1146.1,556.4 1147.3,567.7 1148.5,555.7 1149.7,564.0 1150.9,557.2 1152.1,566.1 1153.4,552.0 1154.6,562.4 1155.8,552.5 1157.0,558.5 1158.0,551.0 1159.0,561.1 1160.0,555.2 1161.0,562.9 1162.0,555.7 1163.0,564.1 1164.0,558.0 1165.0,568.4 1166.0,561.5 1167.0,573.2 1168.2,561.9 1169.5,570.1 1170.8,558.0 1172.0,566.6 1173.2,556.9 1174.5,564.6 1175.8,557.8 1177.0,565.4 1178.2,557.6 1179.3,567.8 1180.5,555.8 1181.6,568.5 1182.8,559.5 1183.9,572.2 1185.1,561.7 1186.2,567.5 1187.4,561.8 1188.5,570.1 1189.7,560.9 1190.8,568.2 1192.0,563.6 1193.2,574.0 1194.4,567.8 1195.5,578.9 1196.7,569.8 1197.9,580.6 1199.1,571.5 1200.3,580.6 1201.5,571.1 1202.6,582.9 1203.8,577.2 1205.0,581.8 1206.2,570.7 1207.4,578.9 1208.6,568.6 1209.8,575.9 1211.0,568.9 1212.2,578.6 1213.4,566.8 1214.6,575.4 1215.8,562.3 1217.0,573.8 1218.2,563.3 1219.4,574.5 1220.6,565.7 1221.8,574.1 1223.0,567.7 1224.2,573.4 1225.4,565.7 1226.6,576.6 1227.8,568.1 1229.0,577.7 1230.2,570.3 1231.4,580.6 1232.6,573.1 1233.8,581.8 1235.0,571.8 1236.2,582.7 1237.4,575.4 1238.6,585.1 1239.8,575.8 1241.0,586.9 1242.2,576.7 1243.4,588.8 1244.6,581.0 1245.8,590.3 1247.0,578.9 1248.3,584.3 1249.6,574.3 1250.9,582.3 1252.1,573.2 1253.4,585.9 1254.7,576.9 1256.0,587.1 1257.3,580.2 1258.6,588.3 1259.9,574.8 1261.1,584.7 1262.4,572.3 1263.7,581.9 1265.0,573.1 1266.3,582.1 1267.6,573.4 1268.9,581.7 1270.2,570.2 1271.5,578.3 1272.8,567.9 1274.2,580.2 1275.5,574.1 1276.8,581.3 1278.1,575.6 1279.4,582.8 1280.7,573.3 1282.0,584.4 1282.9,578.3 1283.9,587.7 1284.8,578.3 1285.8,589.2 1286.7,583.3 1287.7,590.1 1288.6,580.6 1289.6,590.5 1290.5,582.7 1291.5,596.0 1292.4,588.8 1293.4,598.0 1294.3,591.9 1295.3,599.1 1296.2,590.6 1297.2,603.9 1298.1,594.1 1299.1,605.5 1300.0,596.5 1301.1,601.4 1302.3,590.2 1303.4,595.9 1304.5,587.1 1305.7,597.7 1306.8,586.6 1307.9,593.9 1309.1,587.6 1310.2,595.9 1311.3,582.8 1312.5,591.4 1313.6,585.0 1314.7,590.7 1315.9,579.5 1317.0,590.5 1318.2,580.0 1319.4,593.3 1320.5,582.5 1321.7,590.3 1322.9,582.6 1324.1,595.1 1325.3,587.5 1326.5,596.3 1327.6,589.0 1328.8,601.2 1330.0,592.8 1331.2,604.8 1332.5,592.4 1333.8,601.9 1335.0,589.7 1336.2,598.7 1337.5,587.2 1338.8,593.1 1340.0,584.0 1341.2,594.6 1342.5,586.2 1343.8,595.2 1345.0,587.2 1346.0,598.3 1347.0,585.0 1348.0,599.6 1349.0,593.1 1350.0,604.6 1351.0,595.4 1352.0,604.7 1353.0,597.3 1354.0,608.1 1355.0,597.8 1356.0,605.4 1357.0,595.4 1358.0,605.0 1358.9,593.4 1359.9,604.8 1360.8,598.0 1361.8,604.4 1362.7,597.3 1363.7,609.2 1364.6,599.2 1365.6,611.0 1366.5,602.7 1367.5,613.1 1368.4,607.3 1369.4,617.9 1370.3,609.3 1371.3,620.9 1372.2,610.8 1373.2,619.3 1374.1,609.6 1375.1,620.7 1376.0,613.6 1377.0,625.4 1378.2,619.7 1379.4,628.3 1380.5,618.4 1381.7,629.6 1382.9,617.9 1384.1,622.9 1385.3,614.1 1386.5,623.8 1387.6,614.7 1388.8,621.2 1390.0,610.6 1391.2,622.9 1392.4,609.7 1393.6,619.1 1394.9,605.8 1396.1,616.0 1397.3,606.0 1398.5,614.0 1399.7,604.6 1400.9,613.5 1402.1,607.6 1403.4,614.0 1404.6,603.5 1405.8,613.4 1407.0,604.4 1407.8,612.1 1408.6,607.7 1409.4,618.1 1410.2,609.3 1410.9,618.0 1411.7,610.2 1412.5,617.4 1413.3,607.4 1414.1,620.3 1414.9,613.5 1415.7,621.3 1416.5,612.6 1417.3,623.5 1418.1,616.3 1418.8,625.9 1419.6,619.6 1420.4,628.2 1421.2,621.5 1422.0,629.6 1422.8,620.3 1423.7,634.1 1424.5,626.0 1425.3,635.9 1426.2,627.0 1427.0,637.4 1427.8,627.7 1428.7,639.8 1429.5,630.6 1430.3,641.7 1431.2,631.9 1432.0,641.8 1432.8,634.4 1433.7,645.3 1434.5,636.4 1435.3,647.5 1436.2,637.9 1437.0,648.2 1438.4,640.0 1439.8,647.4 1441.2,638.1 1442.5,647.3 1443.9,639.8 1445.3,648.2 1446.7,636.9 1448.1,647.6 1449.5,638.2 1450.8,648.7 1452.2,637.1 1453.6,644.9 1455.0,634.1 1456.3,648.1 1457.7,641.1 1459.0,654.0 1460.3,643.4 1461.7,655.6 1463.0,645.1 1464.3,651.0 1465.7,644.3 1467.0,655.0 1468.3,648.7 1469.7,656.2 1471.0,645.3 1472.3,657.0 1473.7,648.2 1475.0,658.9 1475.8,650.7 1476.5,661.5 1477.2,649.1 1478.0,662.0 1478.8,655.5 1479.5,662.7 1480.2,651.5 1481.0,663.0 1481.8,657.0 1482.5,665.9 1483.2,657.9 1484.0,671.0 1484.8,662.0 1485.5,674.6 1486.2,663.7 1487.0,676.3 1488.2,665.0 1489.3,673.8 1490.5,662.9 1491.6,673.7 1492.8,664.1 1493.9,677.3 1495.1,667.0 1496.2,680.0 1497.4,672.4 1498.5,681.5 1499.7,670.5 1500.8,681.4 1502.0,672.7 1503.3,681.1 1504.6,665.9 1505.9,676.9 1507.2,665.9 1508.5,673.5 1509.8,663.4 1511.1,674.1 1512.4,665.6 1513.7,672.9 1515.0,663.4 1516.2,671.1 1517.3,663.4 1518.5,674.8 1519.6,664.0 1520.8,677.8 1521.9,672.5 1523.1,683.9 1524.2,673.3 1525.4,681.7 1526.5,673.2 1527.7,684.4 1528.8,673.3 1530.0,683.4 1531.4,675.8 1532.9,679.4 1534.3,669.8 1535.7,678.8 1537.1,670.7 1538.6,680.4 1540.0,674.4 1540.3,684.2 1540.6,678.9 1540.8,687.6 1541.1,683.2 1541.4,691.6 1541.7,684.3 1542.0,692.5 1542.2,687.7 1542.5,695.9 1542.8,689.2 1543.1,697.7 1543.4,693.5 1543.6,700.6 1543.9,696.2 1544.2,704.2 1544.5,699.2 1544.8,704.6 1545.0,700.8 1545.3,707.5 1545.6,703.5 1545.9,708.3 1546.2,705.8 1546.4,711.5 1546.7,710.2 1547.0,714.5 1547.5,711.8 1547.9,716.0 1548.4,712.9 1548.8,717.9 1549.3,717.0 1549.7,721.7 1550.2,719.5 1550.6,724.9 1551.1,723.9 1551.5,727.5 1552.0,725.2 1552.5,730.8 1552.9,728.2 1553.4,732.8 1553.8,730.8 1554.3,734.4 1554.7,733.1 1555.2,738.2 1555.6,735.5 1556.1,739.9 1556.5,736.3 1557.0,740.7 1557.6,738.7 1558.2,742.7 1558.9,739.5 1559.5,744.4 1560.1,741.8 1560.7,749.2 1561.3,745.9 1562.0,752.1 1562.6,748.2 1563.2,751.4 1563.8,748.5 1564.4,755.5 1565.0,752.6 1565.7,758.5 1566.3,754.7 1566.9,761.7 1567.5,755.6 1568.1,765.2 1568.8,759.9 1569.4,766.8 1570.0,761.6 1571.1,768.6 1572.1,762.1 1573.2,767.6 1574.3,763.8 1575.4,775.4 1576.4,768.2 1577.5,776.1 1578.6,770.7 1579.6,778.8 1580.7,771.4 1581.8,779.3 1582.9,770.9 1583.9,779.8 1585.0,773.1 1586.3,781.2 1587.6,773.5 1588.9,783.5 1590.2,775.7 1591.5,783.2 1592.8,774.4 1594.1,778.7 1595.4,772.9 1596.6,782.4 1597.9,776.8 1599.2,784.8 1600.5,779.4 1601.8,789.6 1603.1,777.9 1604.4,787.8 1605.7,780.9 1607.0,786.4 1607.9,781.7 1608.9,790.9 1609.8,785.3 1610.8,793.1 1611.7,783.7 1612.6,791.5 1613.6,785.3 1614.5,793.9 1615.4,789.3 1616.4,798.2 1617.3,786.7 1618.2,796.3 1619.2,789.5 1620.1,796.2 1621.1,789.6 1622.0,797.0 1623.2,787.3 1624.5,798.4 1625.8,794.0 1627.0,799.8 1628.2,794.2 1629.5,803.7 1630.8,798.1 1632.0,806.7 1633.2,800.0 1634.5,809.0 1635.8,801.9 1637.0,807.4 1637.7,801.7 1638.4,807.6 1639.1,801.5 1639.9,809.4 1640.6,802.3 1641.3,812.2 1642.0,807.2 1642.7,813.7 1643.4,808.4 1644.1,815.8 1644.9,810.3 1645.6,819.7 1646.3,814.7 1647.0,821.5 1647.7,813.5 1648.4,822.0 1649.1,816.7 1649.9,825.6 1650.6,819.9 1651.3,827.5 1652.0,820.4 1652.9,831.9 1653.8,824.5 1654.7,834.9 1655.6,827.1 1656.5,838.9 1657.4,828.8 1658.3,839.8 1659.2,832.5 1660.1,838.6 1661.0,832.0 1661.9,839.8 1662.8,834.6 1663.7,844.4 1664.6,839.4 1665.5,847.2 1666.4,836.6 1667.3,843.6 1668.2,836.6 1669.1,846.7 1670.0,838.4 1670.7,845.4 1671.4,841.4 1672.0,851.2 1672.7,842.7 1673.4,851.7 1674.1,844.8 1674.8,852.2 1675.5,847.4 1676.1,858.8 1676.8,851.3 1677.5,862.1 1678.2,857.1 1678.9,866.9 1679.5,860.3 1680.2,868.6 1680.9,861.0 1681.6,869.6 1682.3,861.5 1683.0,869.0 1683.6,861.2 1684.3,871.0 1685.0,861.1 1685.8,869.0 1686.5,863.9 1687.3,872.1 1688.1,866.8 1688.8,874.4 1689.6,869.3 1690.4,879.3 1691.2,873.3 1691.9,882.5 1692.7,875.4 1693.5,883.0 1694.2,876.9 1695.0,884.6 1696.4,877.5 1697.7,884.2 1699.1,876.4 1700.5,884.2 1701.8,878.8 1703.2,888.1 1704.5,881.7 1705.9,888.9 1707.3,877.8 1708.6,886.1 1710.0,882.4 1711.2,891.3 1712.4,883.7 1713.5,890.3 1714.7,881.7 1715.9,891.3 1717.1,882.5 1718.2,892.2 1719.4,883.9 1720.6,895.8 1721.8,886.9 1722.9,894.4 1724.1,887.0 1725.3,895.2 1726.5,887.5 1727.6,896.8 1728.8,889.0 1730.0,897.5 1731.0,891.3 1732.0,903.8 1733.0,897.2 1734.0,907.5 1735.0,900.4 1736.0,910.8 1737.0,901.9 1738.0,910.0 1739.0,901.3 1740.0,909.3 1741.0,906.8 1742.0,914.7 1743.0,909.5 1744.0,914.4 1745.0,907.0 1745.8,913.7 1746.6,909.5 1747.4,916.5 1748.2,912.8 1748.9,919.5 1749.7,916.2 1750.5,921.2 1751.3,916.1 1752.1,922.7 1752.9,918.9 1753.7,925.7 1754.5,922.0 1755.3,926.7 1756.1,922.7 1756.8,928.0 1757.6,923.8 1758.4,928.7 1759.2,927.4 1760.0,931.9 1760.6,931.1 1761.1,935.6 1761.7,934.4 1762.2,938.9 1762.8,936.9 1763.3,940.5 1763.9,939.0 1764.4,943.4 1765.0,940.5 1765.6,943.9 1766.2,942.3 1766.7,946.4 1767.3,944.8 1767.9,950.1 1768.5,946.5 1769.1,951.6 1769.7,949.8 1770.2,953.2 1770.8,950.8 1771.4,954.2 1772.0,952.4 1772.6,956.9 1773.1,956.0 1773.7,960.0 1774.3,958.7 1774.9,962.2 1775.5,960.4 1776.0,964.2 1776.6,963.3 1777.2,966.4 1777.8,965.1 1778.4,969.5 1779.0,968.2 1779.5,971.6 1780.1,970.8 1780.7,974.6 1781.3,973.9 1781.9,977.1 1782.4,975.7 1783.0,978.9 1783.6,978.1 1784.2,982.0 1784.8,980.3 1785.3,983.6 1785.9,982.9 1786.5,986.1 1787.1,984.9 1787.7,987.9 1788.3,986.9 1788.8,989.9 1789.4,990.0 1790.0,992.0"/>
<polyline stroke="#00ffff" stroke-width="7" points="285.0,1121.5 286.3,1139.4 287.7,1123.7 289.0,1142.2 290.3,1122.5 291.6,1140.7 293.0,1123.6 294.3,1142.6 295.6,1125.5 296.9,1143.1 298.3,1122.6 299.6,1140.8 300.9,1125.1 302.2,1142.1 303.6,1127.6 304.9,1143.5 306.2,1125.1 307.5,1142.5 308.9,1125.9 310.2,1143.5 311.5,1123.3 312.8,1141.9 314.2,1122.8 315.5,1143.2 316.8,1124.8 318.1,1141.7 319.5,1124.6 320.8,1139.8 322.1,1121.1 323.4,1141.0 324.8,1124.1 326.1,1142.2 327.4,1124.2 328.7,1143.4 330.1,1125.7 331.4,1143.6 332.7,1125.5 334.0,1143.3 335.4,1126.0 336.7,1142.3 338.0,1123.0 339.3,1142.8 340.7,1124.3 342.0,1142.1 343.5,1132.0 343.5,1130.7 343.5,1129.4 343.5,1128.1 343.5,1126.8 343.5,1125.5 343.5,1124.2 343.5,1122.9 343.5,1121.6 343.5,1120.3 343.5,1119.0 343.5,1117.7 343.5,1116.4 343.5,1115.1 343.5,1113.8 343.5,1112.4 343.5,1111.1 343.5,1109.8 343.5,1108.5 343.5,1107.2 343.5,1105.9 343.5,1104.6 343.5,1103.3 343.6,1102.0 343.6,1100.7 343.6,1099.4 343.6,1098.1 343.6,1096.8 343.6,1095.5 343.6,1094.2 343.6,1092.9 343.6,1091.6 343.6,1090.3 343.6,1089.0 343.6,1087.7 343.6,1086.4 343.6,1085.1 343.6,1083.8 343.6,1082.5 343.6,1081.2 343.6,1079.9 343.6,1078.6 343.6,1077.2 343.6,1075.9 343.6,1074.6 343.6,1073.3 343.6,1072.0 343.6,1070.7 343.6,1069.4 343.6,1068.1 343.6,1066.8 343.6,1065.5 343.6,1064.2 343.6,1062.9 343.6,1061.6 343.6,1060.3 343.6,1059.0 343.6,1057.7 343.6,1056.4 343.6,1055.1 343.6,1053.8 343.6,1052.5 343.6,1051.2 343.6,1049.9 343.6,1048.6 343.6,1047.3 343.6,1046.0 343.6,1044.7 343.7,1043.4 343.7,1042.1 343.7,1040.8 343.7,1039.4 343.7,1038.1 343.7,1036.8 343.7,1035.5 343.7,1034.2 343.7,1032.9 343.7,1031.6 343.7,1030.3 343.7,1029.0 343.7,1027.7 343.7,1026.4 343.7,1025.1 343.7,1023.8 343.7,1022.5 343.7,1021.2 343.7,1019.9 343.7,1018.6 343.7,1017.3 343.7,1016.0 343.7,1014.7 343.7,1013.4 343.7,1012.1 343.7,1010.8 343.7,1009.5 343.7,1008.2 343.7,1006.9 343.7,1005.6 343.7,1004.2 343.7,1002.9 343.7,1001.6 343.7,1000.3 343.7,999.0 343.7,997.7 343.7,996.4 343.7,995.1 343.7,993.8 343.7,992.5 343.7,991.2 343.7,989.9 343.7,988.6 343.7,987.3 343.8,986.0 343.8,984.7 343.8,983.4 343.8,982.1 343.8,980.8 343.8,979.5 343.8,978.2 343.8,976.9 343.8,975.6 343.8,974.3 343.8,973.0 343.8,971.7 343.8,970.4 343.8,969.1 343.8,967.8 343.8,966.4 343.8,965.1 343.8,963.8 343.8,962.5 343.8,961.2 343.8,959.9 343.8,958.6 343.8,957.3 343.8,956.0 343.8,954.7 343.8,953.4 343.8,952.1 343.8,950.8 343.8,949.5 343.8,948.2 343.8,946.9 343.8,945.6 343.8,944.3 343.8,943.0 343.8,941.7 343.8,940.4 343.8,939.1 343.8,937.8 343.8,936.5 343.8,935.2 343.8,933.9 343.8,932.6 343.8,931.2 343.8,929.9 343.8,928.6 343.9,927.3 343.9,926.0 343.9,924.7 343.9,923.4 343.9,922.1 343.9,920.8 343.9,919.5 343.9,918.2 343.9,916.9 343.9,915.6 343.9,914.3 343.9,913.0 343.9,911.7 343.9,910.4 343.9,909.1 343.9,907.8 343.9,906.5 343.9,905.2 343.9,903.9 343.9,902.6 343.9,901.3 343.9,900.0 343.9,898.7 343.9,897.4 343.9,896.1 343.9,894.8 343.9,893.4 343.9,892.1 343.9,890.8 343.9,889.5 343.9,888.2 343.9,886.9 343.9,885.6 343.9,884.3 343.9,883.0 343.9,881.7 343.9,880.4 343.9,879.1 343.9,877.8 343.9,876.5 343.9,875.2 343.9,873.9 343.9,872.6 343.9,871.3 343.9,870.0 344.0,868.7 344.0,867.4 344.0,866.1 344.0,864.8 344.0,863.5 344.0,862.2 344.0,860.9 344.0,859.6 344.0,858.2 344.0,856.9 344.0,855.6 344.0,854.3 344.0,853.0 344.0,851.7 344.0,850.4 344.0,849.1 344.0,847.8 344.0,846.5 344.0,845.2 344.0,843.9 344.0,842.6 344.0,841.3 344.0,840.0 344.9,840.4 345.7,844.4 346.6,840.3 347.4,848.2 348.3,839.1 349.1,855.5 350.0,840.6 351.3,857.2 352.6,841.2 353.9,856.0 355.2,839.6 356.5,856.8 357.8,840.2 359.1,856.8 360.4,839.2 361.7,857.5 363.0,841.0 364.3,855.5 365.7,840.6 367.0,856.3 368.3,838.9 369.6,856.8 370.9,837.3 372.2,856.1 373.5,838.5 374.8,855.9 376.1,839.3 377.4,854.2 378.7,839.9 380.0,855.0 381.3,838.0 382.7,856.2 384.0,838.3 385.3,853.3 386.7,836.9 388.0,855.7 389.3,839.4 390.7,854.8 392.0,839.2 393.3,854.2 394.7,839.1 396.0,854.3 397.3,838.2 398.7,856.7 400.0,841.7 401.3,856.4 402.7,839.2 404.0,855.7 404.3,837.3 404.6,852.7 404.9,836.9 405.2,851.2 405.5,833.9 405.8,850.6 406.1,832.1 406.4,848.7 406.7,828.7 407.0,846.0 408.3,827.7 409.6,844.9 411.0,826.8 412.3,843.7 413.6,826.2 414.9,842.2 416.2,826.5 417.6,841.4 418.9,827.1 420.2,842.1 421.5,826.0 422.8,843.3 424.2,824.8 425.5,842.6 426.8,826.4 428.1,844.4 429.4,827.4 430.8,842.7 432.1,826.9 433.4,842.9 434.7,827.9 436.0,842.3 437.4,828.6 438.7,844.4 440.0,828.2 441.4,843.8 442.7,825.6 444.1,844.2 445.4,828.5 446.8,843.8 448.1,829.1 449.4,844.7 450.8,828.3 452.1,843.3 453.5,828.9 454.9,843.7 456.2,826.1 457.6,842.7 458.9,825.8 460.2,841.7 461.6,825.4 462.9,841.3 464.3,823.7 465.6,840.9 467.0,824.0 467.2,840.3 467.4,821.5 467.6,838.1 467.8,821.3 468.0,833.8 468.2,819.0 468.4,832.1 468.6,815.5 468.8,832.7 469.0,813.2 469.2,827.6 469.4,811.4 469.6,826.5 469.8,809.3 470.0,823.0 470.2,805.5 470.4,822.2 470.6,802.8 470.8,818.3 471.0,800.2 472.3,818.3 473.6,801.5 475.0,818.1 476.3,801.6 477.6,815.9 478.9,800.9 480.2,814.6 481.5,799.0 482.9,813.7 484.2,798.7 485.5,814.7 486.8,799.9 488.1,814.8 489.5,799.0 490.8,815.0 492.1,798.4 493.4,814.3 494.7,796.6 496.0,814.3 497.4,798.6 498.7,813.7 500.0,798.1 501.3,814.2 502.6,799.2 504.0,815.3 505.3,797.6 506.6,813.6 507.9,799.1 509.2,815.5 510.6,800.1 511.9,815.2 513.2,799.6 514.5,815.4 515.8,799.0 517.2,814.9 518.5,798.1 519.8,815.2 521.1,798.2 522.4,816.1 523.8,798.5 525.1,816.3 526.4,798.9 527.7,814.8 529.0,798.0 530.4,816.5 531.7,797.2 533.0,815.0 533.2,800.4 533.3,810.1 533.5,800.3 533.7,804.9 533.8,800.1 534.0,800.0 534.0,798.7 534.0,797.4 534.0,796.1 534.0,794.8 534.1,793.5 534.1,792.2 534.1,790.9 534.1,789.6 534.1,788.3 534.1,787.0 534.1,785.7 534.1,784.4 534.1,783.1 534.2,781.8 534.2,780.5 534.2,779.2 534.2,777.9 534.2,776.6 534.2,775.3 534.2,774.0 534.2,772.7 534.2,771.4 534.3,770.1 534.3,768.8 534.3,767.5 534.3,766.2 534.3,764.9 534.3,763.6 534.3,762.3 534.3,761.0 534.3,759.7 534.4,758.4 534.4,757.1 534.4,755.8 534.4,754.5 534.4,753.2 534.4,751.9 534.4,750.6 534.4,749.3 534.4,748.0 534.5,746.7 534.5,745.4 534.5,744.1 534.5,742.8 534.5,741.5 534.5,740.2 534.5,738.9 534.5,737.6 534.5,736.3 534.6,735.0 534.6,733.7 534.6,732.4 534.6,731.1 534.6,729.8 534.6,728.5 534.6,727.2 534.6,725.9 534.6,724.6 534.7,723.3 534.7,722.0 534.7,720.7 534.7,719.4 534.7,718.1 534.7,716.8 534.7,715.5 534.7,714.2 534.7,712.9 534.8,711.6 534.8,710.3 534.8,709.0 534.8,707.7 534.8,706.4 534.8,705.1 534.8,703.8 534.8,702.5 534.8,701.2 534.9,699.9 534.9,698.6 534.9,697.3 534.9,696.0 534.9,694.7 534.9,693.4 534.9,692.1 534.9,690.8 534.9,689.5 535.0,688.2 535.0,686.9 535.0,685.6 535.0,684.3 535.0,683.0 535.0,684.3 535.0,685.6 535.0,686.9 535.0,688.2 535.1,689.5 535.1,690.8 535.1,692.1 535.1,693.4 535.1,694.7 535.1,696.0 535.1,697.3 535.1,698.6 535.1,699.9 535.2,701.2 535.2,702.5 535.2,703.8 535.2,705.1 535.2,706.4 535.2,707.7 535.2,709.0 535.2,710.3 535.2,711.6 535.3,712.9 535.3,714.2 535.3,715.5 535.3,716.8 535.3,718.1 535.3,719.4 535.3,720.7 535.3,722.0 535.3,723.3 535.4,724.6 535.4,725.9 535.4,727.2 535.4,728.5 535.4,729.8 535.4,731.1 535.4,732.4 535.4,733.7 535.4,735.0 535.5,736.3 535.5,737.6 535.5,738.9 535.5,740.2 535.5,741.5 535.5,742.8 535.5,744.1 535.5,745.4 535.5,746.7 535.6,748.0 535.6,749.3 535.6,750.6 535.6,751.9 535.6,753.2 535.6,754.5 535.6,755.8 535.6,757.1 535.6,758.4 535.7,759.7 535.7,761.0 535.7,762.3 535.7,763.6 535.7,764.9 535.7,766.2 535.7,767.5 535.7,768.8 535.7,770.1 535.8,771.4 535.8,772.7 535.8,774.0 535.8,775.3 535.8,776.6 535.8,777.9 535.8,779.2 535.8,780.5 535.8,781.8 535.9,783.1 535.9,784.4 535.9,785.7 535.9,787.0 535.9,788.3 535.9,789.6 535.9,790.9 535.9,792.2 535.9,793.5 536.0,794.8 536.0,796.1 536.0,797.4 536.0,798.7 536.0,800.0 536.0,801.3 536.0,802.6 536.0,803.9 536.0,805.2 536.0,806.5 536.0,807.8 536.1,809.1 536.1,810.4 536.1,811.7 536.1,813.0 536.1,814.3 536.1,815.6 536.1,816.9 536.1,818.2 536.1,819.5 536.1,820.8 536.1,822.1 536.1,823.4 536.2,824.7 536.2,826.0 536.2,827.3 536.2,828.6 536.2,829.9 536.2,831.2 536.2,832.5 536.2,833.8 536.2,835.1 536.2,836.4 536.2,837.7 536.2,839.0 536.3,840.3 536.3,841.6 536.3,842.9 536.3,844.2 536.3,845.5 536.3,846.8 536.3,848.1 536.3,849.4 536.3,850.7 536.3,852.0 536.3,853.3 536.3,854.6 536.3,855.9 536.4,857.2 536.4,858.5 536.4,859.8 536.4,861.1 536.4,862.4 536.4,863.7 536.4,865.0 536.4,866.3 536.4,867.6 536.4,868.9 536.4,870.2 536.4,871.5 536.5,872.8 536.5,874.1 536.5,875.4 536.5,876.7 536.5,878.0 536.5,879.3 536.5,880.7 536.5,882.0 536.5,883.3 536.5,884.6 536.5,885.9 536.5,887.2 536.6,888.5 536.6,889.8 536.6,891.1 536.6,892.4 536.6,893.7 536.6,895.0 536.6,896.3 536.6,897.6 536.6,898.9 536.6,900.2 536.6,901.5 536.6,902.8 536.7,904.1 536.7,905.4 536.7,906.7 536.7,908.0 536.7,909.3 536.7,910.6 536.7,911.9 536.7,913.2 536.7,914.5 536.7,915.8 536.7,917.1 536.7,918.4 536.7,919.7 536.8,921.0 536.8,922.3 536.8,923.6 536.8,924.9 536.8,926.2 536.8,927.5 536.8,928.8 536.8,930.1 536.8,931.4 536.8,932.7 536.8,934.0 536.8,935.3 536.9,936.6 536.9,937.9 536.9,939.2 536.9,940.5 536.9,941.8 536.9,943.1 536.9,944.4 536.9,945.7 536.9,947.0 536.9,948.3 536.9,949.6 536.9,950.9 537.0,952.2 537.0,953.5 537.0,954.8 537.0,956.1 537.0,957.4 537.0,958.7 537.0,960.0 537.1,961.6 537.2,962.2 537.3,964.7 537.4,964.5 537.5,968.0 537.6,967.3 537.7,970.9 537.8,969.7 537.9,974.3 538.0,971.3 538.1,977.3 538.2,973.8 538.3,980.5 538.4,976.2 538.5,982.4 538.6,977.7 538.7,986.3 538.8,978.8 538.9,988.6 539.0,980.3 539.1,990.1 539.2,983.0 539.3,994.0 539.4,984.5 539.5,993.5 539.6,985.9 539.7,997.4 539.8,986.5 539.9,998.1 540.0,989.5 541.4,1001.2 542.9,991.0 544.3,1003.1 545.7,994.0 547.1,1006.3 548.6,995.8 550.0,1004.9 550.5,993.1 551.0,1007.3 551.5,994.9 552.0,1007.3 552.5,997.4 553.0,1009.2 553.5,999.1 554.0,1012.5 554.5,1000.0 555.0,1016.3 555.5,999.8 556.0,1015.5 556.5,1004.3 557.0,1019.2 557.5,1006.7 558.0,1026.4 558.5,1012.4 559.0,1028.6 559.5,1016.5 560.0,1034.5 560.5,1023.1 561.0,1039.0 561.5,1022.7 562.0,1040.7 562.7,1025.7 563.4,1038.4 564.2,1026.3 564.9,1043.2 565.6,1029.7 566.3,1044.7 567.1,1030.3 567.8,1045.8 568.5,1031.7 569.2,1045.2 569.9,1032.3 570.7,1047.9 571.4,1036.4 572.1,1054.9 572.8,1039.5 573.6,1053.3 574.3,1040.3 575.0,1060.9 576.3,1044.9 577.7,1057.9 579.0,1044.1 580.3,1058.9 581.7,1043.6 583.0,1056.7 584.3,1045.6 585.7,1062.5 587.0,1044.9 588.3,1060.2 589.7,1046.7 591.0,1060.2 592.3,1046.0 593.7,1061.6 595.0,1047.0 596.3,1063.8 597.6,1047.7 598.9,1060.1 600.3,1045.0 601.6,1060.6 602.9,1043.6 604.2,1057.9 605.5,1044.4 606.8,1056.5 608.2,1038.6 609.5,1055.5 610.8,1042.0 612.1,1057.0 613.4,1042.0 614.7,1056.9 616.1,1041.7 617.4,1056.8 618.7,1041.5 620.0,1057.4 621.1,1041.4 622.2,1057.9 623.3,1037.3 624.4,1053.7 625.6,1042.2 626.7,1050.9 627.8,1035.4 628.9,1046.5 630.0,1031.8 630.6,1045.7 631.2,1033.8 631.8,1054.3 632.4,1040.2 633.0,1055.6 633.6,1040.3 634.2,1055.4 634.8,1040.1 635.4,1058.4 636.0,1043.2 636.6,1059.7 637.2,1048.5 637.8,1062.5 638.4,1050.3 639.0,1063.3 639.6,1051.2 640.2,1068.3 640.8,1055.0 641.4,1070.2 642.0,1058.8 642.6,1073.5 643.2,1062.4 643.8,1081.7 644.4,1067.6 645.0,1078.7 645.7,1065.0 646.4,1077.3 647.1,1063.4 647.9,1073.0 648.6,1060.8 649.3,1071.3 650.0,1056.5 650.7,1067.5 651.4,1053.6 652.1,1067.5 652.9,1054.1 653.6,1066.3 654.3,1050.0 655.0,1064.5 655.7,1047.7 656.4,1056.8 657.1,1040.4 657.9,1054.5 658.6,1041.1 659.3,1054.4 660.0,1041.9 660.8,1053.6 661.5,1035.8 662.2,1049.3 663.0,1032.1 663.8,1046.2 664.5,1033.4 665.2,1046.2 666.0,1030.2 666.8,1046.1 667.5,1031.1 668.2,1044.1 669.0,1027.7 669.8,1043.1 670.5,1027.6 671.2,1042.0 672.0,1026.9 672.8,1042.4 673.5,1021.2 674.2,1036.7 675.0,1023.5 675.8,1036.8 676.6,1018.9 677.4,1031.4 678.2,1013.5 678.9,1027.9 679.7,1011.4 680.5,1025.6 681.3,1010.4 682.1,1021.7 682.9,1009.1 683.7,1025.2 684.5,1008.5 685.3,1021.4 686.1,1004.2 686.8,1017.3 687.6,1006.3 688.4,1019.7 689.2,1001.8 690.0,1014.6 690.8,997.3 691.6,1011.9 692.4,994.3 693.2,1009.5 693.9,992.9 694.7,1003.5 695.5,987.2 696.3,1000.9 697.1,986.1 697.9,1001.7 698.7,986.5 699.5,998.4 700.3,981.6 701.1,996.2 701.8,982.1 702.6,996.0 703.4,979.0 704.2,994.1 705.0,976.0 706.4,989.2 707.7,978.0 709.1,993.1 710.5,976.3 711.8,989.2 713.2,975.2 714.5,989.4 715.9,976.3 717.3,989.1 718.6,971.7 720.0,989.7 721.3,975.4 722.7,990.9 724.0,971.6 725.3,988.5 726.7,974.8 728.0,985.4 729.3,973.2 730.7,988.5 732.0,973.8 733.3,983.5 734.7,968.3 736.0,986.7 737.3,969.4 738.7,983.2 740.0,966.9 741.2,979.2 742.5,964.4 743.8,976.9 745.0,965.4 746.2,978.3 747.5,963.3 748.8,976.6 750.0,962.5 751.2,978.2 752.5,964.8 753.8,980.8 755.0,965.4 756.3,977.3 757.7,961.3 759.0,975.0 760.3,960.4 761.7,976.1 763.0,960.5 764.3,974.2 765.7,957.2 767.0,974.9 768.3,959.5 769.7,972.1 771.0,955.6 772.3,971.9 773.7,955.7 775.0,968.4 776.4,954.9 777.7,968.7 779.1,955.6 780.5,972.6 781.8,960.1 783.2,977.5 784.5,964.9 785.9,980.0 787.3,963.6 788.6,975.3 790.0,960.8 790.2,978.8 790.4,967.2 790.6,981.8 790.8,966.8 791.1,982.8 791.3,969.4 791.5,985.5 791.7,970.6 791.9,985.9 792.1,972.0 792.3,985.6 792.5,973.1 792.8,987.9 793.0,977.7 793.2,994.4 793.4,983.2 793.6,996.2 793.8,981.2 794.0,994.7 794.2,985.2 794.5,996.2 794.7,989.3 794.9,1001.8 795.1,992.8 795.3,1007.9 795.5,995.0 795.7,1009.1 795.9,998.1 796.2,1009.6 796.4,998.4 796.6,1011.0 796.8,1001.0 797.0,1014.1 797.4,1001.1 797.8,1010.6 798.2,998.7 798.7,1009.1 799.1,995.5 799.5,1006.9 799.9,992.2 800.3,1005.2 800.8,991.4 801.2,1000.8 801.6,989.6 802.0,999.9 802.4,986.1 802.8,998.8 803.2,986.0 803.7,994.9 804.1,982.5 804.5,991.8 804.9,979.3 805.3,990.3 805.8,979.0 806.2,988.9 806.6,974.0 807.0,983.3 808.2,972.9 809.5,985.0 810.8,973.7 812.0,984.3 813.2,973.3 814.5,986.0 815.8,973.7 817.0,987.8 817.3,977.5 817.6,989.7 817.9,979.8 818.1,993.1 818.4,981.8 818.7,997.6 819.0,986.8 819.3,1000.7 819.6,990.4 819.9,1003.4 820.1,993.4 820.4,1006.5 820.7,997.3 821.0,1009.5 821.3,999.2 821.6,1012.0 821.9,1001.7 822.1,1013.9 822.4,1007.1 822.7,1020.1 823.0,1007.0 823.3,1020.6 823.6,1010.8 823.9,1020.8 824.1,1012.1 824.4,1023.1 824.7,1014.3 825.0,1026.6 825.3,1017.7 825.6,1028.7 825.9,1018.7 826.1,1030.6 826.4,1022.5 826.7,1034.9 827.0,1024.9 827.5,1034.6 828.0,1026.8 828.5,1037.5 829.0,1029.2 829.5,1039.7 830.0,1030.6 830.5,1043.5 831.0,1033.1 831.5,1046.7 832.0,1038.1 832.5,1051.9 833.0,1044.9 833.5,1054.9 834.0,1045.4 834.5,1055.2 835.0,1047.0 835.5,1058.1 836.0,1044.0 836.5,1052.8 837.0,1039.9 837.5,1049.5 838.0,1039.0 838.5,1048.4 839.0,1035.4 839.5,1046.2 840.0,1032.6 840.5,1041.8 841.0,1026.5 841.5,1036.7 842.0,1025.3 842.5,1035.4 843.0,1024.8 843.5,1032.9 844.0,1022.5 844.5,1031.0 845.0,1017.9 845.3,1028.3 845.7,1016.9 846.0,1026.0 846.3,1014.6 846.7,1024.5 847.0,1013.1 847.3,1023.1 847.7,1011.8 848.0,1019.0 848.3,1004.9 848.7,1015.5 849.0,1002.6 849.3,1013.3 849.7,999.8 850.0,1010.7 850.7,1000.9 851.4,1012.8 852.1,1003.1 852.8,1013.7 853.5,1004.0 854.2,1019.9 854.9,1007.4 855.6,1020.9 856.3,1008.7 857.0,1020.7 857.5,1007.7 857.9,1019.9 858.4,1006.0 858.9,1017.1 859.3,1006.4 859.8,1014.0 860.2,1001.8 860.7,1012.3 861.2,999.2 861.6,1012.5 862.1,999.8 862.6,1009.7 863.0,997.3 863.5,1005.2 864.0,994.2 864.4,1004.2 864.9,989.1 865.4,1000.5 865.8,987.2 866.3,999.4 866.8,984.9 867.2,995.6 867.7,979.8 868.1,994.1 868.6,981.7 869.1,992.3 869.5,979.7 870.0,989.7 870.8,976.5 871.6,989.0 872.4,974.9 873.1,985.8 873.9,969.2 874.7,980.5 875.5,968.4 876.3,981.8 877.1,967.1 877.9,980.1 878.6,965.0 879.4,978.0 880.2,964.8 881.0,974.7 881.8,964.6 882.6,976.4 883.5,965.6 884.3,977.7 885.1,966.0 885.9,982.3 886.8,970.6 887.6,983.9 888.4,974.4 889.2,987.3 890.1,976.6 890.9,987.7 891.7,976.1 892.5,991.0 893.4,978.5 894.2,989.6 895.0,977.9 895.4,991.2 895.7,979.1 896.1,994.4 896.4,984.6 896.8,1000.6 897.1,990.6 897.5,1001.6 897.9,991.1 898.2,1006.8 898.6,993.8 898.9,1009.0 899.3,997.2 899.6,1009.2 900.0,999.0 900.4,1012.4 900.7,1000.4 901.1,1012.2 901.4,1002.0 901.8,1016.2 902.1,1004.1 902.5,1018.5 902.9,1006.5 903.2,1017.3 903.6,1006.7 903.9,1019.2 904.3,1009.9 904.6,1023.1 905.0,1012.3 905.3,1027.4 905.6,1015.9 906.0,1029.4 906.3,1018.3 906.6,1032.0 906.9,1019.7 907.3,1033.5 907.6,1023.8 907.9,1037.1 908.2,1026.5 908.5,1040.3 908.9,1029.5 909.2,1042.2 909.5,1029.0 909.8,1046.1 910.2,1034.9 910.5,1047.7 910.8,1039.0 911.1,1050.0 911.5,1040.0 911.8,1054.0 912.1,1043.5 912.4,1056.8 912.7,1047.5 913.1,1061.0 913.4,1046.6 913.7,1063.4 914.0,1050.0 914.4,1065.4 914.7,1054.8 915.0,1067.5 915.7,1054.5 916.4,1069.6 917.0,1055.7 917.7,1069.4 918.4,1059.8 919.1,1074.3 919.8,1060.5 920.5,1076.9 921.1,1062.8 921.8,1078.4 922.5,1066.6 923.2,1081.9 923.9,1067.4 924.5,1082.3 925.2,1068.5 925.9,1081.6 926.6,1069.1 927.3,1082.8 928.0,1069.9 928.6,1085.1 929.3,1074.5 930.0,1089.8 930.8,1075.7 931.7,1087.5 932.5,1073.5 933.3,1089.1 934.2,1072.4 935.0,1085.0 935.8,1072.2 936.7,1086.1 937.5,1068.1 938.3,1085.1 939.2,1067.4 940.0,1082.4 940.8,1068.5 941.7,1082.3 942.5,1064.4 943.3,1079.7 944.2,1063.2 945.0,1076.3 946.1,1063.8 947.2,1074.7 948.3,1059.6 949.4,1075.3 950.5,1055.9 951.6,1071.7 952.7,1053.6 953.8,1069.7 954.9,1055.7 956.0,1066.6 957.1,1051.1 958.2,1065.8 959.3,1053.1 960.4,1069.1 961.5,1052.3 962.6,1066.1 963.7,1045.7 964.8,1060.7 965.9,1046.6 967.0,1062.7 968.2,1046.0 969.3,1059.1 970.5,1048.2 971.6,1063.4 972.8,1048.9 973.9,1064.9 975.1,1046.7 976.2,1062.2 977.4,1049.5 978.5,1064.3 979.7,1052.1 980.8,1070.2 982.0,1056.0 983.0,1068.1 984.0,1057.8 985.0,1070.6 986.0,1059.3 987.0,1072.7 988.0,1059.4 989.0,1072.2 990.0,1057.7 991.0,1072.5 992.0,1059.0 993.0,1076.7 994.0,1060.4 995.0,1075.2 996.1,1064.2 997.1,1078.0 998.2,1065.0 999.2,1082.2 1000.3,1069.0 1001.4,1085.3 1002.4,1070.1 1003.5,1085.9 1004.6,1071.9 1005.6,1088.1 1006.7,1075.7 1007.8,1088.4 1008.8,1072.5 1009.9,1084.8 1010.9,1075.2 1012.0,1090.0 1013.3,1074.6 1014.7,1091.1 1016.0,1073.8 1017.3,1088.7 1018.7,1077.2 1020.0,1091.8 1021.3,1076.9 1022.7,1090.3 1024.0,1075.0 1025.3,1089.1 1026.7,1073.9 1028.0,1089.3 1029.3,1073.5 1030.7,1087.0 1032.0,1072.2 1033.2,1087.9 1034.5,1075.2 1035.8,1088.2 1037.0,1072.3 1038.2,1084.9 1039.5,1071.7 1040.8,1085.5 1042.0,1072.7 1043.2,1085.0 1044.5,1069.9 1045.8,1083.1 1047.0,1069.4 1048.2,1082.8 1049.5,1065.9 1050.8,1081.0 1052.0,1066.2 1053.2,1083.3 1054.5,1069.3 1055.8,1084.3 1057.0,1069.5 1058.3,1082.0 1059.6,1066.6 1060.9,1082.3 1062.1,1064.2 1063.4,1079.2 1064.7,1065.9 1066.0,1079.4 1067.3,1067.9 1068.6,1084.3 1069.9,1071.2 1071.1,1085.4 1072.4,1072.4 1073.7,1086.3 1075.0,1068.9 1076.3,1082.9 1077.7,1071.5 1079.0,1087.1 1080.3,1072.4 1081.7,1087.3 1083.0,1070.9 1084.3,1088.6 1085.7,1072.9 1087.0,1087.6 1087.9,1073.2 1088.9,1083.6 1089.8,1069.2 1090.8,1085.1 1091.7,1068.9 1092.7,1082.4 1093.6,1067.8 1094.6,1080.9 1095.5,1064.0 1096.5,1078.6 1097.4,1064.1 1098.4,1079.8 1099.3,1060.9 1100.3,1073.5 1101.2,1060.6 1102.2,1073.5 1103.1,1059.6 1104.1,1072.6 1105.0,1059.7 1106.3,1073.8 1107.6,1060.0 1108.9,1073.1 1110.2,1059.0 1111.5,1073.0 1112.8,1058.0 1114.1,1070.4 1115.4,1054.2 1116.7,1071.8 1118.0,1057.6 1119.3,1070.6 1120.6,1054.0 1121.9,1065.4 1123.1,1052.2 1124.4,1069.4 1125.7,1054.8 1127.0,1071.3 1128.3,1055.7 1129.6,1068.0 1130.9,1055.1 1132.2,1069.0 1133.5,1057.1 1134.8,1069.0 1136.1,1051.9 1137.4,1069.1 1138.7,1051.9 1140.0,1064.9 1141.1,1052.6 1142.1,1068.7 1143.2,1055.4 1144.2,1070.0 1145.3,1055.8 1146.4,1070.5 1147.4,1059.5 1148.5,1077.3 1149.6,1060.4 1150.6,1074.7 1151.7,1061.7 1152.8,1078.9 1153.8,1061.6 1154.9,1079.5 1155.9,1067.8 1157.0,1085.5 1157.8,1069.2 1158.5,1079.4 1159.3,1065.2 1160.1,1077.9 1160.8,1064.2 1161.6,1079.0 1162.4,1065.0 1163.2,1076.7 1163.9,1061.8 1164.7,1073.3 1165.5,1057.6 1166.2,1069.3 1167.0,1052.4 1168.3,1068.2 1169.6,1053.8 1170.9,1066.9 1172.3,1050.8 1173.6,1067.9 1174.9,1054.1 1176.2,1063.9 1177.5,1049.2 1178.8,1066.9 1180.2,1052.4 1181.5,1067.3 1182.8,1051.4 1184.1,1066.1 1185.4,1051.0 1186.7,1063.7 1188.1,1049.5 1189.4,1063.2 1190.7,1052.9 1192.0,1066.3 1193.1,1051.8 1194.1,1067.3 1195.2,1048.6 1196.3,1063.0 1197.4,1046.2 1198.4,1062.1 1199.5,1045.2 1200.6,1056.7 1201.6,1041.1 1202.7,1055.4 1203.8,1039.9 1204.9,1053.5 1205.9,1040.0 1207.0,1054.0 1208.0,1040.0 1209.0,1058.1 1210.0,1042.6 1211.0,1059.7 1212.0,1042.8 1213.0,1058.1 1214.0,1044.8 1215.0,1060.4 1216.0,1043.7 1217.0,1059.9 1218.2,1042.9 1219.3,1060.3 1220.5,1043.8 1221.6,1058.6 1222.8,1043.3 1223.9,1057.6 1225.1,1040.3 1226.2,1054.0 1227.4,1039.2 1228.5,1054.1 1229.7,1040.2 1230.8,1054.5 1232.0,1040.4 1233.2,1055.2 1234.3,1041.6 1235.5,1052.8 1236.6,1035.9 1237.8,1052.8 1238.9,1037.4 1240.1,1049.5 1241.2,1034.5 1242.4,1050.3 1243.5,1035.1 1244.7,1045.4 1245.8,1029.7 1247.0,1045.8 1248.3,1033.6 1249.6,1046.2 1250.9,1033.2 1252.1,1045.3 1253.4,1029.4 1254.7,1042.7 1256.0,1028.0 1257.3,1045.9 1258.6,1030.9 1259.9,1049.0 1261.1,1032.4 1262.4,1050.3 1263.7,1035.0 1265.0,1046.8 1266.1,1033.8 1267.1,1048.9 1268.2,1035.8 1269.3,1052.1 1270.4,1037.7 1271.4,1053.2 1272.5,1040.6 1273.6,1056.5 1274.6,1044.2 1275.7,1061.6 1276.8,1044.6 1277.9,1060.9 1278.9,1044.8 1280.0,1059.0 1281.0,1046.1 1281.9,1057.9 1282.9,1043.2 1283.8,1057.5 1284.8,1041.0 1285.7,1053.7 1286.7,1040.8 1287.7,1053.5 1288.6,1037.4 1289.6,1051.4 1290.5,1035.7 1291.5,1050.5 1292.4,1034.5 1293.4,1048.6 1294.3,1031.6 1295.3,1044.3 1296.3,1030.9 1297.2,1042.1 1298.2,1026.6 1299.1,1039.4 1300.1,1026.9 1301.0,1039.6 1302.0,1020.8 1303.2,1039.1 1304.4,1023.4 1305.5,1038.5 1306.7,1023.0 1307.9,1038.6 1309.1,1025.3 1310.2,1037.4 1311.4,1024.9 1312.6,1039.2 1313.8,1026.0 1314.9,1044.0 1316.1,1028.1 1317.3,1041.2 1318.5,1026.9 1319.6,1042.6 1320.8,1030.8 1322.0,1045.9 1323.4,1028.2 1324.7,1045.5 1326.1,1030.5 1327.5,1046.7 1328.8,1033.6 1330.2,1048.0 1331.5,1032.1 1332.9,1046.6 1334.3,1032.0 1335.6,1042.5 1337.0,1025.4 1337.9,1046.0 1338.9,1031.1 1339.8,1050.9 1340.7,1035.1 1341.6,1051.2 1342.6,1035.8 1343.5,1052.4 1344.4,1036.5 1345.4,1050.0 1346.3,1037.5 1347.2,1051.9 1348.1,1038.4 1349.1,1054.2 1350.0,1040.6 1351.2,1054.3 1352.3,1037.1 1353.5,1052.9 1354.6,1037.2 1355.8,1051.9 1356.9,1036.1 1358.1,1052.2 1359.2,1036.3 1360.4,1051.0 1361.5,1035.0 1362.7,1049.4 1363.8,1032.0 1365.0,1043.4 1365.9,1029.8 1366.8,1043.8 1367.7,1029.3 1368.6,1043.2 1369.5,1027.1 1370.4,1041.1 1371.3,1025.1 1372.2,1037.6 1373.1,1022.9 1373.9,1036.1 1374.8,1021.4 1375.7,1034.6 1376.6,1019.5 1377.5,1031.1 1378.4,1016.6 1379.3,1028.9 1380.2,1014.2 1381.1,1028.3 1382.0,1010.2 1383.2,1024.3 1384.5,1014.4 1385.8,1028.4 1387.0,1013.9 1388.2,1029.0 1389.5,1015.6 1390.8,1033.7 1392.0,1020.9 1393.2,1034.5 1394.5,1017.9 1395.8,1034.3 1397.0,1017.5 1398.2,1032.4 1399.5,1016.0 1400.8,1033.7 1402.0,1019.9 1403.2,1037.1 1404.5,1021.7 1405.8,1036.5 1407.0,1021.6 1408.2,1037.0 1409.5,1022.5 1410.8,1039.3 1412.0,1024.1 1413.2,1039.3 1414.4,1023.1 1415.6,1035.6 1416.8,1021.0 1418.0,1036.7 1419.1,1021.5 1420.3,1037.0 1421.5,1018.1 1422.7,1033.2 1423.9,1019.9 1425.1,1034.1 1426.3,1017.6 1427.5,1029.4 1428.7,1015.1 1429.9,1030.9 1431.0,1017.7 1432.2,1030.9 1433.4,1016.6 1434.6,1028.2 1435.8,1012.0 1437.0,1025.4 1437.9,1011.0 1438.9,1026.7 1439.8,1010.7 1440.7,1023.7 1441.6,1008.3 1442.6,1022.7 1443.5,1006.4 1444.4,1020.3 1445.4,1004.4 1446.3,1018.7 1447.2,1003.7 1448.1,1016.0 1449.1,1000.3 1450.0,1011.5 1451.2,996.9 1452.5,1011.1 1453.8,995.9 1455.0,1011.2 1456.2,994.7 1457.5,1007.1 1458.8,991.9 1460.0,1005.0 1461.2,991.7 1462.5,1007.2 1463.8,990.1 1465.0,1007.1 1466.2,991.1 1467.5,1007.8 1468.8,992.8 1470.0,1008.7 1471.4,993.2 1472.7,1011.7 1474.1,992.3 1475.5,1004.4 1476.8,990.9 1478.2,1009.6 1479.5,997.3 1480.9,1013.0 1482.3,996.6 1483.6,1010.1 1485.0,998.1 1486.3,1011.2 1487.7,992.7 1489.0,1008.5 1490.3,994.7 1491.7,1005.8 1493.0,991.1 1494.3,1008.9 1495.7,992.3 1497.0,1006.5 1498.3,992.8 1499.7,1005.5 1501.0,990.6 1502.3,1004.0 1503.7,989.0 1505.0,1001.4 1506.3,987.6 1507.7,1001.0 1509.0,986.3 1510.4,1000.1 1511.8,984.2 1513.1,1003.3 1514.5,989.4 1515.8,1006.6 1517.2,992.6 1518.5,1007.9 1519.8,991.2 1521.2,1006.9 1522.5,990.1 1523.9,1006.8 1525.2,992.2 1526.6,1005.9 1528.0,990.0 1529.3,1002.3 1530.7,988.7 1532.0,1002.0 1533.2,990.1 1534.5,1004.3 1535.8,990.4 1537.0,1000.8 1538.2,988.9 1539.5,1003.4 1540.8,991.0 1542.0,1003.8 1542.7,990.4 1543.3,1006.5 1544.0,990.8 1544.6,1001.4 1545.2,985.9 1545.9,998.3 1546.5,983.5 1547.2,996.3 1547.8,979.8 1548.5,996.2 1549.2,978.3 1549.8,995.1 1550.5,981.0 1551.1,992.1 1551.8,972.2 1552.4,989.9 1553.0,969.8 1553.7,986.4 1554.3,965.4 1555.0,983.7 1556.2,968.5 1557.5,983.3 1558.8,969.8 1560.0,983.6 1561.2,967.2 1562.5,980.5 1563.8,963.6 1565.0,979.9 1566.2,964.5 1567.5,979.6 1568.8,962.2 1570.0,977.5 1571.2,962.8 1572.5,978.2 1573.8,964.8 1575.0,985.6 1576.2,965.6 1577.5,981.2 1578.8,958.5 1580.0,977.1 1581.2,957.0 1582.5,974.4 1583.8,954.2 1585.0,974.9 1586.3,959.2 1587.7,976.8 1589.0,953.3 1590.3,974.1 1591.7,955.1 1593.0,972.9 1594.3,953.6 1595.7,972.8 1597.0,954.6 1598.3,976.7 1599.7,957.6 1601.0,976.1 1602.3,960.3 1603.7,977.9 1605.0,958.8 1606.3,979.6 1607.7,959.9 1609.0,982.7 1610.3,963.7 1611.7,980.8 1613.0,961.0 1614.3,980.7 1615.7,960.4 1617.0,980.8 1618.3,959.8 1619.7,980.0 1621.0,964.6 1622.3,979.0 1623.7,962.9 1625.0,981.5 1626.3,962.7 1627.6,984.0 1629.0,960.8 1630.3,981.4 1631.6,962.9 1632.9,978.5 1634.2,959.3 1635.6,978.3 1636.9,958.4 1638.2,978.6 1639.5,955.2 1640.9,975.2 1642.2,954.0 1643.5,970.3 1644.8,958.4 1646.1,975.3 1647.5,957.4 1648.8,973.9 1650.1,957.0 1651.4,975.9 1652.8,959.2 1654.1,980.0 1655.4,960.8 1656.7,980.2 1658.0,962.7 1659.4,983.6 1660.7,967.9 1662.0,983.4 1663.1,964.8 1664.2,988.3 1665.4,966.0 1666.5,982.4 1667.6,967.5 1668.8,991.6 1669.9,970.4 1671.0,989.7 1672.1,973.9 1673.2,990.5 1674.4,970.7 1675.5,986.6 1676.6,972.5 1677.8,990.6 1678.9,974.0 1680.0,989.6 1681.3,974.5 1682.7,989.3 1684.0,972.5 1685.3,991.0 1686.7,973.3 1688.0,988.7 1689.3,971.0 1690.7,993.1 1692.0,976.5 1693.3,990.5 1694.7,974.6 1696.0,993.8 1697.3,978.9 1698.7,991.8 1700.0,976.0 1701.3,992.0 1702.6,975.3 1703.9,988.8 1705.2,970.0 1706.5,987.0 1707.8,970.9 1709.1,986.9 1710.4,968.2 1711.6,983.6 1712.9,966.5 1714.2,983.8 1715.5,970.5 1716.8,987.5 1718.1,971.9 1719.4,985.8 1720.7,970.0 1722.0,987.7 1723.0,970.9 1724.0,985.3 1725.0,969.8 1726.0,987.2 1727.0,969.3 1728.0,985.1 1729.0,971.9 1730.0,988.7 1731.0,972.2 1732.0,989.4 1732.4,978.3 1732.8,996.9 1733.1,982.3 1733.5,998.4 1733.9,978.6 1734.3,995.8 1734.7,978.7 1735.0,1000.4 1735.4,981.0 1735.8,1002.1 1736.2,989.0 1736.6,1007.1 1737.0,991.0 1737.3,1013.3 1737.7,993.3 1738.1,1015.4 1738.5,1000.1 1738.9,1014.6 1739.2,998.6 1739.6,1017.7 1740.0,1003.0 1740.2,1022.3 1740.5,1005.1 1740.7,1023.8 1741.0,1008.1 1741.2,1025.8 1741.4,1010.7 1741.7,1027.5 1741.9,1008.0 1742.2,1028.9 1742.4,1013.6 1742.7,1028.9 1742.9,1012.8 1743.1,1036.0 1743.4,1017.3 1743.6,1035.6 1743.9,1017.9 1744.1,1036.4 1744.3,1019.7 1744.6,1042.4 1744.8,1025.3 1745.1,1048.3 1745.3,1032.5 1745.6,1053.4 1745.8,1037.6 1746.0,1058.6 1746.3,1041.0 1746.5,1059.7 1746.8,1042.2 1747.0,1058.4 1747.3,1043.5 1747.5,1061.9 1747.8,1048.9 1748.0,1069.6 1748.3,1049.0 1748.5,1069.8 1748.8,1050.6 1749.1,1071.5 1749.3,1054.6 1749.6,1069.9 1749.8,1055.1 1750.1,1075.0 1750.4,1057.5 1750.6,1074.2 1750.9,1055.6 1751.1,1076.7 1751.4,1057.1 1751.6,1077.7 1751.9,1062.2 1752.2,1081.0 1752.4,1067.7 1752.7,1089.1 1752.9,1068.7 1753.2,1088.0 1753.5,1068.9 1753.7,1088.7 1754.0,1069.0 1754.2,1090.5 1754.5,1077.2 1754.7,1095.3 1755.0,1078.3 1755.3,1101.1 1755.6,1083.5 1755.9,1104.5 1756.2,1085.0 1756.5,1106.4 1756.8,1091.9 1757.1,1107.6 1757.4,1091.3 1757.7,1108.8 1758.0,1093.0 1758.3,1112.0 1758.7,1091.9 1759.0,1112.6 1759.3,1096.4 1759.6,1115.6 1759.9,1099.2 1760.2,1116.7 1760.5,1102.6 1760.8,1122.3 1761.1,1103.3 1761.4,1122.9 1761.7,1103.5 1762.0,1121.5 1762.4,1108.9 1762.8,1129.3 1763.2,1113.7 1763.7,1131.9 1764.1,1114.2 1764.5,1135.5 1764.9,1118.7 1765.3,1138.0 1765.8,1118.4 1766.2,1138.8 1766.6,1121.3 1767.0,1144.7 1767.4,1129.5 1767.8,1145.2 1768.2,1126.2 1768.7,1149.3 1769.1,1135.8 1769.5,1153.0 1769.9,1135.9 1770.3,1156.1 1770.8,1140.7 1771.2,1159.7 1771.6,1139.3 1772.0,1160.4 1772.7,1144.0 1773.3,1161.5 1774.0,1143.5 1774.7,1161.0 1775.3,1145.2 1776.0,1166.3 1776.7,1151.0 1777.3,1168.4 1778.0,1153.5 1778.7,1169.3 1779.3,1155.0 1780.0,1172.0 1780.7,1160.0 1781.3,1177.4 1782.0,1157.1 1782.7,1173.1 1783.4,1159.0 1784.1,1175.5 1784.8,1159.6 1785.5,1174.7 1786.2,1159.9 1786.8,1176.8 1787.5,1166.0 1788.2,1177.6 1788.9,1168.2 1789.6,1181.0 1790.3,1173.0 1791.0,1182.0"/>
<polyline stroke="#ff00ff" stroke-width="7" points="285.0,1127.7 286.3,1136.9 287.7,1128.9 289.0,1136.1 290.3,1128.4 291.6,1135.8 293.0,1127.6 294.3,1136.5 295.6,1129.0 296.9,1136.9 298.3,1128.1 299.6,1136.3 300.9,1128.8 302.2,1136.7 303.6,1127.6 304.9,1135.7 306.2,1127.9 307.5,1135.4 308.9,1127.5 310.2,1136.0 311.5,1127.8 312.8,1135.5 314.2,1127.7 315.5,1135.5 316.8,1127.4 318.1,1135.8 319.5,1128.5 320.8,1136.0 322.1,1129.0 323.4,1136.8 324.8,1128.4 326.1,1137.1 327.4,1128.1 328.7,1137.0 330.1,1128.4 331.4,1136.6 332.7,1128.9 334.0,1136.6 335.4,1128.3 336.7,1136.8 338.0,1128.2 339.3,1135.7 340.7,1127.5 342.0,1135.6 343.5,1132.0 343.5,1130.7 343.5,1129.4 343.5,1128.1 343.5,1126.8 343.5,1125.4 343.5,1124.1 343.5,1122.8 343.5,1121.5 343.5,1120.2 343.6,1118.9 343.6,1117.6 343.6,1116.3 343.6,1114.9 343.6,1113.6 343.6,1112.3 343.6,1111.0 343.6,1109.7 343.6,1108.4 343.6,1107.1 343.6,1105.8 343.6,1104.5 343.6,1103.1 343.6,1101.8 343.6,1100.5 343.6,1099.2 343.6,1097.9 343.6,1096.6 343.7,1095.3 343.7,1094.0 343.7,1092.6 343.7,1091.3 343.7,1090.0 343.7,1088.7 343.7,1087.4 343.7,1086.1 343.7,1084.8 343.7,1083.5 343.7,1082.2 343.7,1080.8 343.7,1079.5 343.7,1078.2 343.7,1076.9 343.7,1075.6 343.7,1074.3 343.7,1073.0 343.7,1071.7 343.8,1070.3 343.8,1069.0 343.8,1067.7 343.8,1066.4 343.8,1065.1 343.8,1063.8 343.8,1062.5 343.8,1061.2 343.8,1059.8 343.8,1058.5 343.8,1057.2 343.8,1055.9 343.8,1054.6 343.8,1053.3 343.8,1052.0 343.8,1050.7 343.8,1049.4 343.8,1048.0 343.8,1046.7 343.9,1045.4 343.9,1044.1 343.9,1042.8 343.9,1041.5 343.9,1040.2 343.9,1038.9 343.9,1037.5 343.9,1036.2 343.9,1034.9 343.9,1033.6 343.9,1032.3 343.9,1031.0 343.9,1029.7 343.9,1028.4 343.9,1027.1 343.9,1025.7 343.9,1024.4 343.9,1023.1 344.0,1021.8 344.0,1020.5 344.0,1019.2 344.0,1017.9 344.0,1016.6 344.0,1015.2 344.0,1013.9 344.0,1012.6 344.0,1011.3 344.0,1010.0 344.8,1010.3 345.5,1013.7 346.2,1011.3 347.0,1017.7 347.8,1012.1 348.5,1020.8 349.2,1012.9 350.0,1025.9 351.3,1013.4 352.6,1025.5 353.9,1013.8 355.2,1026.5 356.5,1013.8 357.8,1026.9 359.1,1012.7 360.4,1024.8 361.7,1012.6 363.0,1026.2 364.3,1012.5 365.7,1025.6 367.0,1013.9 368.3,1024.8 369.6,1014.1 370.9,1025.5 372.2,1013.7 373.5,1025.3 374.8,1014.0 376.1,1025.8 377.4,1013.3 378.7,1024.9 380.0,1012.8 381.3,1024.8 382.7,1013.9 384.0,1024.6 385.3,1012.0 386.7,1026.3 388.0,1014.2 389.3,1026.2 390.7,1012.6 392.0,1024.8 393.3,1012.7 394.7,1024.7 396.0,1012.9 397.3,1025.4 398.7,1012.2 400.0,1026.2 401.3,1012.0 402.7,1024.1 404.0,1010.3 405.0,1021.2 406.0,1008.6 407.0,1021.1 408.3,1008.9 409.6,1021.0 411.0,1009.2 412.3,1021.0 413.6,1008.3 414.9,1021.5 416.2,1007.5 417.6,1021.4 418.9,1009.5 420.2,1021.3 421.5,1010.4 422.8,1022.7 424.2,1010.8 425.5,1021.5 426.8,1009.8 428.1,1023.2 429.4,1009.3 430.8,1022.7 432.1,1009.7 433.4,1022.8 434.7,1009.7 436.0,1021.7 437.4,1010.8 438.7,1023.2 440.0,1010.2 441.3,1022.2 442.7,1010.6 444.0,1023.0 445.3,1009.8 446.7,1022.7 448.0,1009.7 449.3,1021.7 450.7,1011.2 452.0,1022.1 453.3,1010.0 454.7,1022.2 456.0,1010.7 457.3,1022.2 458.7,1010.5 460.0,1020.6 461.3,1008.2 462.7,1021.4 464.0,1008.5 465.3,1022.8 466.7,1009.5 468.0,1021.8 468.4,1008.4 468.7,1018.9 469.1,1004.5 469.5,1016.0 469.8,1000.7 470.2,1012.4 470.5,999.3 470.9,1009.9 471.3,996.2 471.6,1007.6 472.0,993.7 473.3,1005.6 474.7,994.6 476.0,1007.8 477.3,995.5 478.7,1006.4 480.0,995.0 481.3,1005.9 482.7,995.4 484.0,1008.8 485.3,996.5 486.7,1008.8 488.0,998.2 489.3,1008.8 490.7,998.4 492.0,1009.4 493.3,999.5 494.7,1010.1 496.0,997.3 497.3,1010.1 498.7,996.6 500.0,1008.4 501.3,997.7 502.6,1010.3 503.9,997.8 505.3,1010.1 506.6,998.4 507.9,1010.7 509.2,998.1 510.5,1010.3 511.8,999.1 513.2,1011.9 514.5,998.7 515.8,1010.9 517.1,999.4 518.4,1011.0 519.7,999.7 521.1,1011.8 522.4,999.6 523.7,1011.0 525.0,1000.9 526.5,1011.6 528.0,1001.4 529.5,1008.1 531.0,1002.8 531.0,1006.0 531.0,1000.1 531.1,1003.8 531.1,997.2 531.1,1000.9 531.1,994.2 531.1,997.8 531.2,991.8 531.2,995.3 531.2,989.5 531.2,992.6 531.3,986.7 531.3,990.0 531.3,984.0 531.3,987.4 531.3,981.8 531.4,984.8 531.4,978.9 531.4,981.8 531.4,976.6 531.4,979.1 531.5,974.0 531.5,976.3 531.5,971.1 531.5,973.5 531.6,968.7 531.6,970.8 531.6,965.9 531.6,968.6 531.6,963.6 531.7,965.9 531.7,961.3 531.7,963.4 531.7,959.1 531.7,961.2 531.8,956.1 531.8,958.1 531.8,953.5 531.8,955.5 531.9,951.2 531.9,953.0 531.9,948.9 531.9,950.3 531.9,946.1 532.0,947.8 532.0,943.6 532.0,944.9 532.0,941.0 532.0,942.4 532.1,938.4 532.1,939.3 532.1,935.7 532.1,936.5 532.1,933.1 532.2,933.8 532.2,930.6 532.2,931.6 532.2,928.2 532.3,928.6 532.3,925.5 532.3,925.8 532.3,922.7 532.3,923.2 532.4,920.3 532.4,920.6 532.4,917.9 532.4,918.0 532.4,915.3 532.5,915.3 532.5,912.7 532.5,912.6 532.5,910.1 532.6,910.0 532.6,907.7 532.6,907.3 532.6,905.0 532.6,904.6 532.7,902.5 532.7,902.0 532.7,899.8 532.7,899.3 532.7,897.3 532.8,896.7 532.8,894.8 532.8,894.0 532.8,892.2 532.9,891.4 532.9,889.7 532.9,888.7 532.9,887.1 532.9,886.0 533.0,884.6 533.0,883.3 533.0,882.0 533.3,883.3 533.6,884.6 533.9,885.9 534.2,887.2 534.5,888.5 534.8,889.8 535.1,891.1 535.4,892.4 535.7,893.7 536.0,895.0 536.2,896.1 536.3,897.7 536.5,898.4 536.7,900.4 536.9,900.7 537.0,903.4 537.2,902.8 537.4,905.7 537.6,905.3 537.7,908.5 537.9,907.3 538.1,911.1 538.3,910.0 538.4,915.0 538.6,912.7 538.8,916.9 539.0,915.2 539.1,920.3 539.3,917.7 539.5,922.5 539.7,919.0 539.8,925.3 540.0,922.0 540.4,929.0 540.8,925.1 541.2,930.1 541.7,925.6 542.1,933.5 542.5,929.8 542.9,937.6 543.3,933.3 543.8,940.5 544.2,935.1 544.6,944.9 545.0,939.9 545.6,949.4 546.3,942.3 546.9,951.5 547.5,942.9 548.2,952.1 548.8,943.5 549.4,950.1 550.1,942.2 550.7,953.0 551.3,945.4 551.9,957.4 552.6,952.0 553.2,964.6 553.8,954.0 554.5,963.0 555.1,952.2 555.7,964.4 556.4,956.5 557.0,972.1 558.1,960.1 559.1,967.9 560.2,958.2 561.2,965.8 562.3,954.6 563.4,966.0 564.4,953.9 565.5,962.6 566.6,954.1 567.6,958.8 568.7,947.3 569.8,958.5 570.8,948.5 571.9,957.1 572.9,945.0 574.0,950.8 574.7,943.4 575.4,954.4 576.2,944.8 576.9,956.0 577.6,948.9 578.3,960.2 579.1,952.6 579.8,962.9 580.5,954.7 581.2,970.0 581.9,959.0 582.7,970.8 583.4,960.6 584.1,973.0 584.8,961.6 585.6,974.0 586.3,964.9 587.0,979.5 587.8,964.3 588.6,974.3 589.4,960.9 590.2,972.9 591.0,962.9 591.8,969.7 592.6,958.1 593.4,968.8 594.2,958.5 595.0,968.1 595.8,958.1 596.6,964.0 597.4,954.1 598.2,961.7 599.0,948.7 599.8,959.7 600.6,947.2 601.4,956.3 602.2,946.2 603.0,955.6 603.8,945.4 604.6,956.5 605.4,945.6 606.2,954.0 607.0,944.9 607.9,957.7 608.7,946.7 609.6,958.6 610.5,946.9 611.3,957.4 612.2,950.6 613.1,958.9 613.9,951.2 614.8,959.2 615.7,950.0 616.5,959.0 617.4,951.9 618.3,963.0 619.1,953.0 620.0,964.8 621.3,957.1 622.6,967.7 623.9,957.9 625.2,972.2 626.5,960.5 627.8,970.1 629.2,958.3 630.5,966.3 631.8,955.4 633.1,964.7 634.4,956.3 635.7,966.9 637.0,957.3 637.8,968.3 638.7,959.0 639.5,970.0 640.3,956.9 641.2,970.1 642.0,962.4 642.8,974.1 643.7,964.6 644.5,977.2 645.3,964.8 646.2,976.5 647.0,968.7 647.8,982.8 648.7,972.5 649.5,986.1 650.3,974.6 651.2,984.0 652.0,977.5 652.6,988.3 653.1,975.5 653.7,981.6 654.3,970.7 654.8,983.4 655.4,973.5 656.0,977.6 656.5,965.5 657.1,975.1 657.7,963.6 658.2,971.5 658.8,959.3 659.3,970.8 659.9,958.7 660.5,966.5 661.0,955.2 661.6,966.8 662.2,954.4 662.7,961.0 663.3,949.4 663.9,959.9 664.4,947.4 665.0,959.2 666.0,947.5 667.0,959.9 668.0,955.5 669.0,967.0 670.0,953.8 671.0,964.1 672.0,957.9 673.0,968.3 674.0,959.4 675.0,970.4 676.0,956.0 677.0,968.4 677.6,960.1 678.1,972.4 678.7,966.8 679.3,981.2 679.8,971.3 680.4,983.5 681.0,974.5 681.5,986.9 682.1,977.4 682.7,988.3 683.2,982.6 683.8,993.7 684.3,986.7 684.9,998.5 685.5,983.8 686.0,993.6 686.6,987.2 687.2,998.2 687.7,988.9 688.3,1002.4 688.9,994.8 689.4,1005.5 690.0,995.5 691.2,1006.1 692.4,992.5 693.7,1006.3 694.9,989.7 696.1,999.1 697.3,990.3 698.6,997.9 699.8,985.7 701.0,996.8 702.2,986.3 703.4,994.7 704.7,984.1 705.9,993.5 707.1,981.4 708.3,988.3 709.6,980.4 710.8,990.6 712.0,981.0 713.2,991.2 714.5,980.0 715.8,990.6 717.0,982.4 718.2,991.7 719.5,980.5 720.8,995.0 722.0,985.4 723.2,992.3 724.5,984.9 725.8,995.1 727.0,987.4 728.2,999.0 729.5,989.8 730.8,999.1 732.0,991.0 733.4,1000.5 734.7,989.5 736.1,1000.6 737.5,992.6 738.8,1001.9 740.2,988.4 741.5,997.7 742.9,987.4 744.3,999.9 745.6,993.4 747.0,1002.4 747.6,992.4 748.2,1002.2 748.8,992.8 749.4,1002.6 749.9,990.1 750.5,1003.1 751.1,994.0 751.7,1004.6 752.3,995.2 752.9,1006.1 753.5,994.3 754.1,1005.3 754.6,998.5 755.2,1012.3 755.8,1000.9 756.4,1011.1 757.0,1001.0 757.7,1016.0 758.4,1009.0 759.1,1019.3 759.8,1010.4 760.5,1020.8 761.2,1012.1 761.8,1021.5 762.5,1010.4 763.2,1021.1 763.9,1013.9 764.6,1028.7 765.3,1022.0 766.0,1032.3 766.7,1023.5 767.4,1033.3 768.1,1025.5 768.8,1038.5 769.5,1028.0 770.2,1040.2 770.8,1029.7 771.5,1043.1 772.2,1031.7 772.9,1044.5 773.6,1034.6 774.3,1047.2 775.0,1039.0 775.5,1047.3 776.0,1036.4 776.5,1041.5 777.0,1031.2 777.4,1039.1 777.9,1026.8 778.4,1034.5 778.9,1021.2 779.4,1031.4 779.9,1019.1 780.4,1029.4 780.9,1020.6 781.3,1030.9 781.8,1024.1 782.3,1033.0 782.8,1020.3 783.3,1027.7 783.8,1014.5 784.3,1026.0 784.8,1012.9 785.2,1023.3 785.7,1013.7 786.2,1020.0 786.7,1009.6 787.2,1018.1 787.7,1005.9 788.2,1012.8 788.7,1001.1 789.1,1011.2 789.6,1001.0 790.1,1009.8 790.6,996.1 791.1,1007.1 791.6,995.8 792.1,1007.4 792.6,991.9 793.0,1000.3 793.5,991.6 794.0,998.5 794.5,989.3 795.0,997.4 795.8,988.6 796.5,999.8 797.3,989.4 798.1,998.9 798.8,991.0 799.6,1000.3 800.4,989.0 801.2,1003.1 801.9,994.0 802.7,1003.8 803.5,992.4 804.2,1002.7 805.0,993.7 805.9,1005.1 806.8,998.6 807.6,1010.1 808.5,999.0 809.4,1005.4 810.3,996.0 811.2,1004.9 812.1,990.3 812.9,1001.0 813.8,989.8 814.7,997.8 815.6,988.2 816.5,999.2 817.4,992.8 818.2,1000.9 819.1,989.9 820.0,997.9 820.3,988.0 820.5,997.6 820.8,989.0 821.0,1001.5 821.3,991.7 821.5,1004.1 821.8,994.7 822.1,1006.9 822.3,995.6 822.6,1004.7 822.8,998.4 823.1,1011.6 823.3,1002.7 823.6,1011.8 823.8,1002.1 824.1,1014.0 824.4,1003.2 824.6,1013.6 824.9,1004.3 825.1,1011.8 825.4,1006.1 825.6,1017.7 825.9,1007.9 826.2,1020.6 826.4,1016.3 826.7,1028.4 826.9,1020.8 827.2,1032.0 827.4,1023.3 827.7,1032.3 827.9,1025.6 828.2,1037.1 828.5,1025.4 828.7,1037.5 829.0,1028.8 829.2,1038.2 829.5,1027.8 829.7,1042.1 830.0,1033.4 831.1,1043.4 832.1,1032.1 833.2,1037.8 834.2,1025.8 835.3,1035.1 836.4,1026.9 837.4,1033.4 838.5,1024.5 839.6,1035.7 840.6,1027.7 841.7,1035.6 842.8,1022.7 843.8,1031.0 844.9,1021.8 845.9,1034.7 847.0,1024.3 848.4,1032.7 849.7,1023.1 851.1,1032.8 852.5,1023.4 853.8,1033.6 855.2,1024.6 856.5,1032.5 857.9,1022.7 859.3,1034.0 860.6,1023.8 862.0,1031.9 862.9,1020.1 863.7,1028.5 864.6,1020.9 865.5,1034.6 866.3,1024.4 867.2,1035.0 868.1,1024.2 868.9,1035.7 869.8,1026.5 870.7,1039.1 871.5,1030.3 872.4,1040.5 873.3,1030.8 874.1,1042.9 875.0,1035.7 875.6,1046.5 876.2,1034.2 876.8,1044.2 877.4,1035.0 877.9,1044.1 878.5,1033.8 879.1,1044.4 879.7,1029.4 880.3,1037.0 880.9,1026.4 881.5,1031.9 882.1,1021.8 882.6,1036.0 883.2,1022.6 883.8,1031.2 884.4,1020.3 885.0,1030.3 885.6,1018.0 886.2,1025.3 886.8,1013.5 887.4,1021.2 887.9,1009.6 888.5,1017.6 889.1,1006.9 889.7,1013.9 890.3,1003.1 890.9,1013.7 891.5,1001.1 892.1,1009.6 892.6,997.0 893.2,1006.7 893.8,995.9 894.4,1005.6 895.0,995.3 895.4,1006.9 895.7,997.7 896.1,1007.6 896.5,997.0 896.8,1011.8 897.2,1002.0 897.6,1012.5 897.9,1002.4 898.3,1016.0 898.7,1007.9 899.1,1019.5 899.4,1012.2 899.8,1026.9 900.2,1013.6 900.5,1025.2 900.9,1015.4 901.3,1025.9 901.6,1016.7 902.0,1027.8 903.3,1017.3 904.6,1029.5 905.9,1019.0 907.2,1029.3 908.5,1016.4 909.8,1023.7 911.1,1014.9 912.4,1022.6 913.7,1009.7 915.0,1022.6 916.2,1014.4 917.5,1026.0 918.8,1017.4 920.0,1029.5 921.2,1021.6 922.5,1030.0 923.8,1018.7 925.0,1029.0 925.9,1017.4 926.9,1027.1 927.8,1014.1 928.8,1024.0 929.7,1011.2 930.6,1019.8 931.6,1010.6 932.5,1019.8 933.4,1006.0 934.4,1016.2 935.3,1004.6 936.2,1013.0 937.2,1005.7 938.1,1015.0 939.1,1002.7 940.0,1013.8 941.3,1000.6 942.6,1010.0 943.9,1002.8 945.2,1011.8 946.5,999.1 947.8,1009.6 949.1,1001.3 950.4,1009.9 951.7,1000.3 953.0,1011.0 954.3,1000.7 955.6,1010.7 956.9,998.7 958.1,1007.3 959.4,997.9 960.7,1005.6 962.0,998.3 963.3,1007.2 964.6,996.0 965.9,1004.1 967.2,994.5 968.5,1005.6 969.8,992.7 971.1,1003.4 972.4,995.3 973.7,1003.5 975.0,993.2 976.2,1004.7 977.5,995.1 978.8,1006.7 980.0,997.1 981.2,1012.1 982.5,1000.9 983.8,1010.0 985.0,1002.4 985.9,1008.4 986.8,997.3 987.8,1007.6 988.7,997.3 989.6,1003.1 990.5,993.9 991.5,1003.3 992.4,991.2 993.3,1001.3 994.2,993.2 995.2,999.9 996.1,988.2 997.0,1000.3 997.9,987.5 998.9,997.4 999.8,987.9 1000.7,998.7 1001.6,991.7 1002.6,999.7 1003.5,992.3 1004.4,1004.9 1005.3,995.8 1006.3,1007.5 1007.2,1001.0 1008.1,1016.6 1009.0,1005.9 1010.0,1016.1 1010.9,1007.4 1011.8,1018.4 1012.7,1006.3 1013.7,1017.9 1014.6,1005.3 1015.5,1017.5 1016.4,1010.2 1017.4,1022.1 1018.3,1011.9 1019.2,1024.3 1020.1,1012.3 1021.1,1025.7 1022.0,1014.8 1022.8,1022.0 1023.6,1010.0 1024.3,1020.5 1025.1,1010.2 1025.9,1018.9 1026.7,1009.2 1027.5,1016.3 1028.3,1005.3 1029.0,1012.3 1029.8,1001.5 1030.6,1012.8 1031.4,1003.0 1032.2,1011.8 1033.0,998.3 1033.7,1008.9 1034.5,997.8 1035.3,1005.8 1036.1,996.2 1036.9,1003.1 1037.7,992.4 1038.4,1000.7 1039.2,989.3 1040.0,998.0 1041.3,988.9 1042.6,999.1 1043.9,988.0 1045.2,998.4 1046.5,986.7 1047.8,998.1 1049.1,987.6 1050.4,992.4 1051.7,981.5 1053.0,991.2 1054.3,980.1 1055.6,992.6 1056.9,985.6 1058.1,992.6 1059.4,980.5 1060.7,989.7 1062.0,979.1 1063.3,990.9 1064.6,979.9 1065.9,991.6 1067.2,981.5 1068.5,990.8 1069.8,979.7 1071.1,987.9 1072.4,980.1 1073.7,987.4 1075.0,974.8 1076.2,987.6 1077.4,976.6 1078.6,985.6 1079.9,976.6 1081.1,989.5 1082.3,981.7 1083.5,991.8 1084.7,984.0 1085.9,996.8 1087.1,985.3 1088.4,995.0 1089.6,987.8 1090.8,997.7 1092.0,991.2 1093.2,1000.4 1094.5,991.0 1095.8,998.8 1097.0,987.8 1098.2,997.6 1099.5,987.0 1100.8,997.0 1102.0,984.9 1103.2,996.3 1104.5,985.2 1105.8,997.4 1107.0,986.7 1108.2,997.1 1109.5,982.7 1110.8,992.3 1112.0,983.3 1113.3,993.1 1114.6,983.2 1115.9,995.0 1117.2,984.2 1118.6,994.0 1119.9,985.3 1121.2,995.6 1122.5,987.4 1123.8,998.2 1125.1,985.9 1126.4,995.7 1127.7,986.0 1129.0,995.7 1130.3,986.3 1131.7,993.1 1133.0,984.8 1134.3,995.2 1135.6,983.7 1136.9,992.4 1138.2,983.3 1139.5,992.2 1140.8,982.3 1142.1,993.0 1143.4,981.9 1144.8,992.8 1146.1,981.9 1147.4,993.6 1148.7,982.0 1150.0,994.8 1151.1,987.8 1152.3,995.2 1153.4,986.4 1154.6,994.8 1155.7,986.0 1156.9,997.2 1158.0,986.6 1159.1,993.0 1160.3,985.0 1161.4,997.5 1162.6,986.4 1163.7,998.5 1164.9,989.9 1166.0,1001.9 1166.9,990.7 1167.8,1001.9 1168.6,989.3 1169.5,997.1 1170.4,989.0 1171.2,998.5 1172.1,984.1 1173.0,995.1 1173.9,984.8 1174.8,990.9 1175.6,979.8 1176.5,987.9 1177.4,975.8 1178.2,988.4 1179.1,976.4 1180.0,985.7 1181.3,977.0 1182.6,984.0 1183.9,976.5 1185.2,989.1 1186.5,977.7 1187.8,988.6 1189.1,978.1 1190.4,987.7 1191.7,975.4 1193.0,985.2 1194.3,979.7 1195.6,987.5 1196.9,975.9 1198.1,990.5 1199.4,979.1 1200.7,988.2 1202.0,978.0 1203.3,988.3 1204.6,979.0 1205.9,991.5 1207.2,981.0 1208.5,991.4 1209.8,981.0 1211.1,990.9 1212.4,978.4 1213.7,988.4 1215.0,977.4 1216.1,989.5 1217.2,979.1 1218.3,988.4 1219.4,978.3 1220.6,993.9 1221.7,987.6 1222.8,997.7 1223.9,986.2 1225.0,993.2 1226.3,984.3 1227.6,995.3 1228.9,987.1 1230.3,996.3 1231.6,987.9 1232.9,999.9 1234.2,987.3 1235.5,998.8 1236.8,987.2 1238.2,996.0 1239.5,989.9 1240.8,997.2 1242.1,986.8 1243.4,998.5 1244.7,988.1 1246.1,999.4 1247.4,991.9 1248.7,998.1 1250.0,987.0 1251.3,996.5 1252.6,982.8 1253.9,994.2 1255.3,980.8 1256.6,993.1 1257.9,984.6 1259.2,992.6 1260.5,984.0 1261.8,997.6 1263.2,986.7 1264.5,997.3 1265.8,986.6 1267.1,997.4 1268.4,988.6 1269.7,998.4 1271.1,986.2 1272.4,992.6 1273.7,983.5 1275.0,995.6 1276.3,983.7 1277.6,997.4 1278.9,984.4 1280.2,995.8 1281.5,983.3 1282.8,991.7 1284.2,984.6 1285.5,994.8 1286.8,988.1 1288.1,995.9 1289.4,984.6 1290.7,992.0 1292.0,982.3 1293.2,989.4 1294.3,981.4 1295.5,994.3 1296.6,985.2 1297.8,997.5 1298.9,985.8 1300.1,996.6 1301.2,987.0 1302.4,998.8 1303.5,990.3 1304.7,1000.3 1305.8,991.8 1307.0,1002.4 1308.3,990.8 1309.6,1003.5 1310.9,992.9 1312.2,1001.6 1313.5,991.2 1314.8,1001.3 1316.1,988.5 1317.4,999.7 1318.7,989.8 1320.0,996.9 1321.3,985.3 1322.6,996.4 1323.9,986.8 1325.2,996.8 1326.5,987.6 1327.8,997.0 1329.2,987.7 1330.5,997.7 1331.8,988.3 1333.1,998.1 1334.4,990.3 1335.7,1001.2 1337.0,991.7 1338.3,997.0 1339.6,984.1 1340.9,994.3 1342.2,985.0 1343.5,997.4 1344.8,987.1 1346.1,995.7 1347.4,983.5 1348.7,990.4 1350.0,980.4 1351.3,989.8 1352.6,981.4 1353.9,990.5 1355.3,981.8 1356.6,992.3 1357.9,982.1 1359.2,992.5 1360.5,983.2 1361.8,995.9 1363.2,989.4 1364.5,1000.4 1365.8,987.5 1367.1,995.1 1368.4,985.9 1369.7,994.8 1371.1,985.2 1372.4,996.2 1373.7,985.7 1375.0,997.9 1376.2,986.4 1377.5,994.6 1378.8,986.6 1380.0,996.5 1381.2,987.3 1382.5,998.2 1383.8,990.4 1385.0,1000.4 1386.2,991.8 1387.5,1003.0 1388.8,991.1 1390.0,1001.6 1391.2,992.0 1392.5,1001.3 1393.8,994.6 1395.0,1005.0 1396.3,997.6 1397.6,1007.9 1398.9,1000.3 1400.2,1006.2 1401.5,992.2 1402.8,1003.1 1404.2,995.7 1405.5,1009.1 1406.8,996.2 1408.1,1005.4 1409.4,997.2 1410.7,1007.3 1412.0,994.5 1412.5,1008.6 1413.0,1002.2 1413.5,1011.1 1414.0,1003.2 1414.5,1013.6 1415.0,1003.8 1415.5,1013.8 1416.0,1006.0 1416.5,1016.6 1417.0,1007.9 1418.2,1015.4 1419.5,1005.7 1420.8,1015.7 1422.0,1005.2 1423.2,1014.1 1424.5,1003.0 1425.8,1010.5 1427.0,999.4 1428.2,1011.4 1429.5,1002.6 1430.8,1010.1 1432.0,999.4 1433.2,1007.1 1434.5,996.2 1435.8,1008.5 1437.0,999.0 1438.3,1009.3 1439.6,998.6 1440.9,1010.5 1442.2,1000.3 1443.6,1012.2 1444.9,1003.6 1446.2,1013.5 1447.5,1004.1 1448.8,1014.9 1450.1,1006.1 1451.4,1016.0 1452.7,1004.8 1454.0,1016.4 1455.3,1004.0 1456.7,1016.3 1458.0,1006.9 1459.3,1016.6 1460.6,1006.0 1461.9,1018.5 1463.2,1008.0 1464.5,1018.7 1465.8,1008.6 1467.1,1016.8 1468.4,1005.0 1469.8,1014.4 1471.1,1004.7 1472.4,1014.1 1473.7,1002.0 1475.0,1014.4 1475.2,1004.3 1475.5,1015.7 1475.7,1008.8 1475.9,1019.6 1476.2,1013.7 1476.4,1025.3 1476.6,1015.0 1476.8,1026.6 1477.1,1018.3 1477.3,1029.7 1477.5,1023.6 1477.8,1030.9 1478.0,1021.8 1479.3,1033.5 1480.6,1023.0 1481.9,1031.0 1483.1,1019.7 1484.4,1030.5 1485.7,1020.6 1487.0,1031.9 1488.3,1022.6 1489.6,1030.6 1490.9,1019.1 1492.1,1029.2 1493.4,1018.2 1494.7,1027.8 1496.0,1017.6 1497.3,1026.2 1498.6,1018.6 1499.9,1025.1 1501.1,1016.1 1502.4,1026.8 1503.7,1015.8 1505.0,1024.8 1506.3,1013.3 1507.7,1020.9 1509.0,1013.4 1510.3,1023.3 1511.7,1014.5 1513.0,1024.4 1514.3,1016.6 1515.7,1025.6 1517.0,1015.3 1518.3,1027.3 1519.7,1017.9 1521.0,1027.1 1522.3,1018.0 1523.7,1026.1 1525.0,1014.4 1526.3,1025.2 1527.7,1016.4 1529.0,1022.0 1530.3,1013.4 1531.7,1024.8 1533.0,1014.2 1534.3,1024.7 1535.7,1016.6 1537.0,1025.3 1537.2,1018.0 1537.4,1028.3 1537.6,1019.9 1537.9,1029.3 1538.1,1023.5 1538.3,1035.5 1538.5,1030.4 1538.7,1036.5 1538.9,1030.7 1539.1,1038.4 1539.4,1035.1 1539.6,1039.6 1539.8,1037.5 1540.0,1042.4 1540.1,1039.8 1540.3,1044.1 1540.4,1041.9 1540.6,1047.4 1540.7,1044.7 1540.9,1049.8 1541.0,1046.6 1541.1,1051.7 1541.3,1048.8 1541.4,1054.1 1541.6,1052.4 1541.7,1057.1 1541.9,1053.8 1542.0,1060.3 1542.1,1056.9 1542.3,1064.4 1542.4,1062.0 1542.6,1067.8 1542.7,1062.9 1542.9,1070.2 1543.0,1067.6 1544.1,1070.8 1545.2,1065.4 1546.2,1071.4 1547.3,1062.8 1548.4,1068.6 1549.5,1061.6 1550.5,1067.2 1551.6,1058.5 1552.7,1066.1 1553.8,1056.3 1554.8,1066.6 1555.9,1056.5 1557.0,1065.2 1558.3,1057.1 1559.6,1067.3 1560.9,1056.0 1562.2,1064.9 1563.5,1054.0 1564.8,1062.8 1566.1,1051.0 1567.4,1062.6 1568.7,1052.4 1570.0,1061.1 1571.3,1050.7 1572.6,1063.4 1573.9,1053.4 1575.2,1062.6 1576.5,1052.7 1577.8,1059.9 1579.2,1049.5 1580.5,1059.0 1581.8,1049.4 1583.1,1059.3 1584.4,1046.9 1585.7,1056.7 1587.0,1048.9 1588.3,1059.5 1589.6,1048.8 1590.9,1057.0 1592.2,1047.7 1593.5,1056.7 1594.8,1049.4 1596.1,1057.6 1597.4,1049.1 1598.7,1059.8 1600.0,1049.8 1600.6,1061.4 1601.2,1048.7 1601.9,1060.6 1602.5,1052.2 1603.1,1064.6 1603.8,1054.2 1604.4,1063.6 1605.0,1054.5 1606.2,1063.4 1607.4,1054.3 1608.7,1063.5 1609.9,1055.2 1611.1,1063.5 1612.3,1051.9 1613.6,1061.4 1614.8,1050.6 1616.0,1060.5 1617.2,1048.0 1618.4,1056.2 1619.7,1046.7 1620.9,1058.1 1622.1,1047.1 1623.3,1056.7 1624.6,1044.0 1625.8,1056.4 1627.0,1047.3 1627.9,1057.3 1628.9,1046.0 1629.8,1056.8 1630.7,1044.7 1631.6,1057.7 1632.6,1048.6 1633.5,1062.4 1634.4,1053.0 1635.4,1066.8 1636.3,1058.2 1637.2,1068.7 1638.1,1059.0 1639.1,1067.0 1640.0,1061.0 1641.3,1070.3 1642.6,1058.8 1643.9,1065.5 1645.2,1057.3 1646.5,1068.3 1647.8,1055.0 1649.1,1067.0 1650.4,1057.4 1651.6,1072.2 1652.9,1061.1 1654.2,1072.5 1655.5,1059.1 1656.8,1067.7 1658.1,1055.9 1659.4,1061.3 1660.7,1052.4 1662.0,1062.6 1662.8,1051.7 1663.5,1061.1 1664.3,1054.7 1665.1,1068.8 1665.8,1059.1 1666.6,1069.4 1667.4,1062.2 1668.2,1072.3 1668.9,1062.8 1669.7,1073.7 1670.5,1065.6 1671.2,1080.3 1672.0,1070.8 1673.2,1081.8 1674.3,1068.6 1675.5,1079.8 1676.6,1071.0 1677.8,1078.8 1678.9,1068.9 1680.0,1077.5 1681.2,1065.5 1682.3,1075.0 1683.5,1067.7 1684.7,1077.8 1685.8,1064.5 1687.0,1071.0 1688.1,1060.5 1689.2,1068.9 1690.4,1060.2 1691.5,1072.2 1692.7,1060.9 1693.8,1070.8 1695.0,1061.4 1696.2,1070.7 1697.4,1058.8 1698.6,1070.5 1699.7,1058.5 1700.9,1065.3 1702.1,1053.8 1703.3,1065.7 1704.5,1056.8 1705.7,1064.5 1706.9,1053.1 1708.0,1062.6 1709.2,1052.2 1710.4,1059.6 1711.6,1051.5 1712.8,1057.5 1714.0,1048.9 1715.1,1057.5 1716.3,1046.4 1717.5,1054.3 1718.7,1041.6 1719.9,1052.7 1721.1,1045.1 1722.3,1053.2 1723.4,1039.9 1724.6,1053.0 1725.8,1043.6 1727.0,1052.5 1727.1,1043.5 1727.2,1049.6 1727.3,1046.1 1727.4,1053.0 1727.5,1049.9 1727.6,1055.6 1727.7,1053.9 1727.8,1057.9 1727.9,1058.1 1728.0,1060.0 1728.1,1061.3 1728.1,1062.6 1728.2,1063.9 1728.2,1065.2 1728.3,1066.5 1728.3,1067.9 1728.4,1069.2 1728.4,1070.5 1728.5,1071.8 1728.6,1073.1 1728.6,1074.4 1728.7,1075.7 1728.7,1077.0 1728.8,1078.3 1728.8,1079.6 1728.9,1080.9 1729.0,1082.2 1729.0,1083.6 1729.1,1084.9 1729.1,1086.2 1729.2,1087.5 1729.2,1088.8 1729.3,1090.1 1729.3,1091.4 1729.4,1092.7 1729.5,1094.0 1729.5,1095.3 1729.6,1096.6 1729.6,1097.9 1729.7,1099.3 1729.7,1100.6 1729.8,1101.9 1729.9,1103.2 1729.9,1104.5 1730.0,1105.8 1730.0,1107.1 1730.1,1108.4 1730.1,1109.7 1730.2,1111.0 1730.2,1112.3 1730.3,1113.6 1730.4,1115.0 1730.4,1116.3 1730.5,1117.6 1730.5,1118.9 1730.6,1120.2 1730.6,1121.5 1730.7,1122.8 1730.7,1124.1 1730.8,1125.4 1730.9,1126.7 1730.9,1128.0 1731.0,1129.3 1731.0,1130.7 1731.1,1132.0 1731.1,1133.3 1731.2,1134.6 1731.3,1135.9 1731.3,1137.2 1731.4,1138.5 1731.4,1139.8 1731.5,1141.1 1731.5,1142.4 1731.6,1143.7 1731.6,1145.0 1731.7,1146.4 1731.8,1147.7 1731.8,1149.0 1731.9,1150.3 1731.9,1151.6 1732.0,1152.9 1732.0,1154.2 1732.1,1155.5 1732.1,1156.8 1732.2,1158.1 1732.3,1159.4 1732.3,1160.7 1732.4,1162.1 1732.4,1163.4 1732.5,1164.7 1732.5,1166.0 1732.6,1167.3 1732.7,1168.6 1732.7,1169.9 1732.8,1171.2 1732.8,1172.5 1732.9,1173.8 1732.9,1175.1 1733.0,1176.4 1733.0,1177.8 1733.1,1179.1 1733.2,1180.4 1733.2,1181.7 1733.3,1183.0 1733.3,1184.3 1733.4,1185.6 1733.4,1186.9 1733.5,1188.2 1733.6,1189.5 1733.6,1190.8 1733.7,1192.1 1733.7,1193.5 1733.8,1194.8 1733.8,1196.1 1733.9,1197.4 1733.9,1198.7 1734.0,1200.0 1734.2,1201.3 1734.4,1202.6 1734.5,1203.9 1734.7,1205.2 1734.9,1206.5 1735.1,1207.9 1735.3,1209.2 1735.5,1210.5 1735.6,1211.8 1735.8,1213.1 1736.0,1214.4 1736.2,1215.7 1736.4,1217.0 1736.5,1218.3 1736.7,1219.6 1736.9,1220.9 1737.1,1222.3 1737.3,1223.6 1737.5,1224.9 1737.6,1226.2 1737.8,1227.5 1738.0,1228.8 1738.2,1230.1 1738.4,1231.4 1738.5,1232.7 1738.7,1234.0 1738.9,1235.3 1739.1,1236.7 1739.3,1238.0 1739.5,1239.3 1739.6,1240.6 1739.8,1241.9 1740.0,1243.2 1740.2,1244.5 1740.4,1245.8 1740.5,1247.1 1740.7,1248.4 1740.9,1249.7 1741.1,1251.1 1741.3,1252.4 1741.5,1253.7 1741.6,1255.0 1741.8,1256.3 1742.0,1257.6 1742.2,1258.9 1742.4,1260.2 1742.5,1261.5 1742.7,1262.8 1742.9,1264.1 1743.1,1265.5 1743.3,1266.8 1743.5,1268.1 1743.6,1269.4 1743.8,1270.7 1744.0,1272.0 1745.5,1272.2 1747.0,1271.6 1748.5,1272.7 1750.0,1271.5 1750.6,1271.8 1751.1,1269.1 1751.7,1269.8 1752.3,1266.6 1752.8,1266.9 1753.4,1264.2 1754.0,1264.5 1754.5,1261.5 1755.1,1262.2 1755.7,1259.6 1756.2,1260.3 1756.8,1257.2 1757.4,1258.1 1758.0,1254.7 1758.5,1255.1 1759.1,1252.7 1759.7,1253.7 1760.2,1250.7 1760.8,1250.9 1761.4,1247.3 1761.9,1248.5 1762.5,1244.7 1763.1,1245.7 1763.6,1242.4 1764.2,1243.7 1764.8,1240.5 1765.3,1241.2 1765.9,1237.5 1766.5,1238.8 1767.0,1235.8 1767.6,1236.5 1768.2,1233.0 1768.8,1235.0 1769.3,1230.9 1769.9,1232.0 1770.5,1228.1 1771.0,1229.8 1771.6,1226.6 1772.2,1228.0 1772.7,1224.9 1773.3,1225.5 1773.9,1221.4 1774.4,1222.5 1775.0,1218.1 1775.6,1218.6 1776.2,1215.1 1776.8,1216.7 1777.5,1213.8 1778.1,1215.4 1778.7,1211.1 1779.3,1213.1 1779.9,1209.7 1780.5,1211.0 1781.2,1207.9 1781.8,1208.6 1782.4,1205.0 1783.0,1206.1 1783.6,1203.3 1784.2,1204.3 1784.8,1200.1 1785.5,1201.6 1786.1,1197.7 1786.7,1198.8 1787.3,1194.5 1787.9,1195.8 1788.5,1193.2 1789.2,1193.4 1789.8,1189.7 1790.4,1191.7 1791.0,1190.0"/>
</g>
<g fill="none" stroke="#0000ff" stroke-linejoin="round">
<line x1="343.4" y1="1402.5" x2="343.4" y2="265" stroke-width="6.5" stroke-dasharray="7 7"/>
<line x1="282.6" y1="1402.5" x2="343.4" y2="1402.5" stroke-width="3.8"/>
<line x1="1728" y1="1402.5" x2="1792" y2="1402.5" stroke-width="3.8"/>
<polyline stroke-width="5.5" points="340.9,1307.6 341.9,1338.9 342.9,1309.9 343.9,1335.0 344.9,1310.4 346.0,1340.1 347.0,1313.1 348.0,1339.7 349.0,1311.2 350.0,1339.0 351.0,1310.9 352.0,1337.1 353.0,1311.2 354.1,1340.9 355.1,1313.7 356.1,1338.8 357.1,1313.0 358.1,1338.3 359.1,1312.6 360.1,1338.3 361.1,1313.0 362.2,1336.2 363.2,1312.9 364.2,1339.5 365.2,1310.4 366.2,1337.2 367.2,1309.2 368.2,1337.7 369.2,1310.9 370.2,1332.8 371.3,1306.8 372.3,1338.3 373.3,1308.8 374.3,1338.0 375.3,1312.0 376.3,1334.4 377.3,1307.6 378.3,1335.1 379.4,1306.8 380.4,1338.0 381.4,1308.8 382.4,1337.6 383.4,1310.6 384.4,1338.7 385.4,1313.0 386.4,1338.5 387.4,1312.3 388.5,1341.6 389.5,1313.6 390.5,1340.2 391.5,1313.4 392.5,1338.9 393.5,1312.5 394.5,1338.6 395.5,1310.3 396.6,1338.6 397.6,1307.3 398.6,1337.4 399.6,1313.4 400.6,1336.8 401.6,1312.4 402.6,1339.0 403.6,1310.2 404.7,1336.3 405.7,1311.1 406.7,1335.9 407.7,1307.2 408.7,1324.0"/>
<polyline stroke-width="5.5" points="403.7,1228.0 404.7,1259.8 405.7,1225.4 406.7,1257.0 407.7,1225.8 408.8,1258.2 409.8,1228.3 410.8,1256.0 411.8,1226.2 412.8,1260.3 413.8,1228.1 414.8,1258.4 415.8,1226.7 416.9,1260.6 417.9,1228.6 418.9,1260.2 419.9,1225.9 420.9,1256.3 421.9,1227.5 422.9,1257.4 423.9,1224.3 425.0,1255.0 426.0,1221.3 427.0,1253.8 428.0,1220.0 429.0,1253.3 430.0,1223.6 431.0,1255.0 432.0,1220.2 433.0,1251.9 434.1,1223.0 435.1,1256.6 436.1,1226.2 437.1,1257.3 438.1,1226.2 439.1,1256.7 440.1,1225.4 441.1,1257.2 442.2,1227.1 443.2,1257.6 444.2,1226.7 445.2,1255.9 446.2,1227.1 447.2,1257.2 448.2,1227.8 449.2,1254.8 450.2,1226.3 451.3,1257.7 452.3,1227.1 453.3,1258.1 454.3,1226.6 455.3,1253.6 456.3,1222.6 457.3,1257.6 458.3,1227.7 459.4,1254.6 460.4,1223.7 461.4,1260.2 462.4,1224.7 463.4,1254.2 464.4,1222.2 465.4,1256.0 466.4,1225.6 467.5,1257.8 468.5,1224.3 469.5,1257.2 470.5,1228.5 471.5,1241.0"/>
<polyline stroke-width="5.5" points="466.5,1104.2 467.5,1121.8 468.5,1104.3 469.5,1120.2 470.5,1102.8 471.6,1120.1 472.6,1104.0 473.6,1120.1 474.6,1106.0 475.6,1121.6 476.6,1104.5 477.6,1122.6 478.6,1104.2 479.7,1122.3 480.7,1104.6 481.7,1123.0 482.7,1105.3 483.7,1120.0 484.7,1103.4 485.7,1123.7 486.7,1105.4 487.8,1121.0 488.8,1105.6 489.8,1120.6 490.8,1104.4 491.8,1122.0 492.8,1103.9 493.8,1123.4 494.8,1103.8 495.8,1119.9 496.9,1103.7 497.9,1120.7 498.9,1103.9 499.9,1119.5 500.9,1103.1 501.9,1121.0 502.9,1104.5 503.9,1119.6 505.0,1103.3 506.0,1119.2 507.0,1102.2 508.0,1119.6 509.0,1103.2 510.0,1120.4 511.0,1103.3 512.0,1119.9 513.0,1103.6 514.1,1121.5 515.1,1105.2 516.1,1120.4 517.1,1105.6 518.1,1121.7 519.1,1104.1 520.1,1119.6 521.1,1103.5 522.2,1121.0 523.2,1103.6 524.2,1120.4 525.2,1102.9 526.2,1119.9 527.2,1103.2 528.2,1122.1 529.2,1102.6 530.3,1118.6 531.3,1104.1 532.3,1119.5 533.3,1102.0 534.3,1112.5"/>
<polyline stroke-width="5.5" points="529.3,990.7 530.3,999.4 531.3,990.0 532.3,999.2 533.3,991.8 534.4,1000.9 535.4,990.6 536.4,1000.3 537.4,990.7 538.4,1000.2 539.4,990.6 540.4,999.4 541.4,991.5 542.5,1000.2 543.5,991.4 544.5,999.5 545.5,990.0 546.5,999.1 547.5,990.3 548.5,1000.0 549.5,989.6 550.6,1000.0 551.6,991.1 552.6,999.4 553.6,990.5 554.6,999.1 555.6,990.2 556.6,999.3 557.6,990.6 558.6,1000.2 559.7,990.3 560.7,999.2 561.7,990.1 562.7,1000.0 563.7,990.5 564.7,999.7 565.7,989.6 566.7,998.9 567.8,990.8 568.8,999.3 569.8,989.8 570.8,998.5 571.8,989.2 572.8,999.0 573.8,990.4 574.8,998.5 575.8,990.7 576.9,998.8 577.9,989.9 578.9,998.9 579.9,990.5 580.9,999.2 581.9,990.9 582.9,999.4 583.9,990.7 585.0,999.8 586.0,990.4 587.0,999.1 588.0,989.9 589.0,999.8 590.0,991.1 591.0,999.7 592.0,991.0 593.1,998.6 594.1,990.9 595.1,998.9 596.1,990.8 597.1,995.0"/>
<polyline stroke-width="5.5" points="592.1,869.9 593.1,878.4 594.1,870.3 595.1,877.5 596.1,870.6 597.2,878.3 598.2,870.4 599.2,877.9 600.2,869.4 601.2,877.4 602.2,869.7 603.2,878.4 604.2,869.6 605.3,878.5 606.3,869.6 607.3,878.0 608.3,869.8 609.3,878.0 610.3,869.9 611.3,878.1 612.3,869.8 613.4,877.4 614.4,869.5 615.4,877.9 616.4,870.5 617.4,877.6 618.4,870.4 619.4,878.4 620.4,870.5 621.4,877.2 622.5,869.7 623.5,877.7 624.5,870.1 625.5,878.2 626.5,869.8 627.5,877.4 628.5,870.5 629.5,878.4 630.6,869.7 631.6,878.4 632.6,869.5 633.6,877.5 634.6,869.6 635.6,877.4 636.6,870.0 637.6,878.7 638.6,870.7 639.7,878.7 640.7,869.8 641.7,878.0 642.7,870.7 643.7,878.1 644.7,870.8 645.7,878.0 646.7,869.9 647.8,877.8 648.8,870.3 649.8,877.9 650.8,870.3 651.8,877.6 652.8,870.0 653.8,878.5 654.8,870.1 655.9,878.1 656.9,869.8 657.9,877.8 658.9,870.5 659.9,874.0"/>
<polyline stroke-width="5.5" points="654.9,755.7 655.9,763.0 656.9,754.4 657.9,762.9 658.9,755.3 660.0,763.1 661.0,755.0 662.0,762.4 663.0,755.3 664.0,762.7 665.0,754.8 666.0,762.5 667.0,754.9 668.1,762.3 669.1,755.4 670.1,763.3 671.1,755.4 672.1,762.4 673.1,755.6 674.1,762.7 675.1,755.9 676.2,762.6 677.2,754.9 678.2,763.7 679.2,755.9 680.2,763.1 681.2,755.4 682.2,762.8 683.2,754.9 684.2,762.0 685.3,754.6 686.3,761.6 687.3,754.6 688.3,762.7 689.3,754.6 690.3,762.1 691.3,755.6 692.3,762.1 693.4,754.6 694.4,762.2 695.4,754.7 696.4,762.4 697.4,755.2 698.4,762.8 699.4,755.5 700.4,762.2 701.4,755.6 702.5,762.5 703.5,755.7 704.5,763.1 705.5,754.5 706.5,762.4 707.5,754.6 708.5,762.4 709.5,755.2 710.6,762.6 711.6,754.8 712.6,761.7 713.6,754.5 714.6,762.2 715.6,755.1 716.6,762.6 717.6,755.6 718.7,763.0 719.7,754.9 720.7,762.8 721.7,754.8 722.7,759.0"/>
<polyline stroke-width="5.5" points="717.7,635.5 718.7,644.3 719.7,636.7 720.7,644.6 721.7,636.1 722.8,644.0 723.8,636.5 724.8,643.4 725.8,635.5 726.8,642.8 727.8,636.1 728.8,643.5 729.8,636.3 730.9,643.7 731.9,636.1 732.9,643.6 733.9,635.7 734.9,644.4 735.9,635.9 736.9,643.2 737.9,635.8 739.0,644.2 740.0,635.8 741.0,644.1 742.0,636.1 743.0,643.9 744.0,636.2 745.0,643.4 746.0,635.8 747.0,643.2 748.1,635.2 749.1,643.8 750.1,635.5 751.1,643.6 752.1,636.0 753.1,644.0 754.1,635.2 755.1,643.7 756.2,635.3 757.2,643.9 758.2,635.6 759.2,643.8 760.2,636.2 761.2,643.2 762.2,636.6 763.2,643.2 764.2,635.5 765.3,643.4 766.3,635.9 767.3,644.3 768.3,636.5 769.3,643.7 770.3,636.2 771.3,645.0 772.3,637.5 773.4,644.9 774.4,637.5 775.4,645.3 776.4,636.5 777.4,644.8 778.4,636.3 779.4,644.3 780.4,637.4 781.5,644.1 782.5,636.4 783.5,644.2 784.5,636.9 785.5,640.0"/>
<polyline stroke-width="5.5" points="780.5,516.9 781.5,525.1 782.5,518.1 783.5,524.8 784.5,518.0 785.6,525.1 786.6,518.6 787.6,525.2 788.6,517.7 789.6,525.6 790.6,517.3 791.6,525.5 792.6,516.9 793.7,525.6 794.7,517.0 795.7,524.9 796.7,517.8 797.7,525.8 798.7,517.7 799.7,525.7 800.7,517.3 801.8,525.0 802.8,517.4 803.8,525.1 804.8,517.2 805.8,525.7 806.8,518.1 807.8,525.7 808.8,517.8 809.8,524.4 810.9,517.3 811.9,524.8 812.9,517.6 813.9,525.3 814.9,517.5 815.9,524.5 816.9,517.4 817.9,524.8 819.0,517.4 820.0,524.3 821.0,517.6 822.0,525.2 823.0,517.9 824.0,524.5 825.0,518.0 826.0,525.2 827.0,517.8 828.1,524.7 829.1,516.8 830.1,524.8 831.1,517.1 832.1,524.5 833.1,518.2 834.1,525.2 835.1,517.0 836.2,524.3 837.2,517.5 838.2,525.1 839.2,517.6 840.2,524.4 841.2,517.3 842.2,524.5 843.2,516.7 844.3,524.5 845.3,517.4 846.3,524.7 847.3,516.5 848.3,521.0"/>
<polyline stroke-width="5.5" points="843.3,399.4 844.3,406.8 845.3,399.1 846.3,406.9 847.3,399.6 848.4,407.3 849.4,398.9 850.4,407.5 851.4,400.1 852.4,407.6 853.4,400.0 854.4,407.2 855.4,399.5 856.5,407.2 857.5,400.1 858.5,407.8 859.5,399.4 860.5,407.8 861.5,399.4 862.5,407.2 863.5,399.1 864.6,406.2 865.6,398.7 866.6,407.3 867.6,399.2 868.6,407.1 869.6,399.3 870.6,406.8 871.6,398.4 872.6,406.5 873.7,398.5 874.7,406.9 875.7,399.5 876.7,406.3 877.7,398.9 878.7,407.5 879.7,400.0 880.7,407.4 881.8,399.2 882.8,406.7 883.8,399.3 884.8,407.5 885.8,400.5 886.8,406.8 887.8,399.9 888.8,407.9 889.8,399.4 890.9,407.7 891.9,399.5 892.9,408.0 893.9,400.7 894.9,407.9 895.9,399.5 896.9,406.7 897.9,400.2 899.0,407.6 900.0,399.5 901.0,407.9 902.0,399.3 903.0,406.7 904.0,399.9 905.0,408.2 906.0,399.8 907.1,407.3 908.1,399.6 909.1,407.9 910.1,400.2 911.1,403.3"/>
<polyline stroke-width="5.5" points="906.1,282.6 907.1,290.2 908.1,282.7 909.1,289.9 910.1,283.3 911.2,290.9 912.2,282.7 913.2,290.5 914.2,282.4 915.2,290.1 916.2,282.0 917.2,291.1 918.2,282.3 919.3,291.0 920.3,282.9 921.3,290.0 922.3,282.4 923.3,290.0 924.3,282.3 925.3,291.1 926.3,283.2 927.4,290.0 928.4,282.8 929.4,290.4 930.4,282.7 931.4,289.6 932.4,282.3 933.4,290.1 934.4,283.2 935.4,290.7 936.5,284.3 937.5,291.8 938.5,283.9 939.5,291.6 940.5,282.9 941.5,290.3 942.5,283.4 943.5,290.8 944.6,283.4 945.6,290.0 946.6,283.6 947.6,290.5 948.6,283.9 949.6,290.0 950.6,282.9 951.6,290.7 952.6,283.3 953.7,290.0 954.7,282.4 955.7,291.1 956.7,282.7 957.7,290.1 958.7,283.2 959.7,290.2 960.7,283.7 961.8,290.3 962.8,282.8 963.8,290.9 964.8,282.9 965.8,291.4 966.8,283.7 967.8,290.2 968.8,282.7 969.9,290.5 970.9,283.7 971.9,290.5 972.9,282.5 973.9,286.7"/>
<polyline stroke-width="5.5" points="968.9,165.6 969.9,173.8 970.9,166.4 971.9,173.4 972.9,165.8 973.9,173.6 974.9,166.4 975.9,174.1 976.9,165.9 977.9,173.6 978.9,166.1 979.9,173.6 981.0,166.8 982.0,173.1 983.0,166.3 984.0,174.3 985.0,166.7 986.0,173.9 987.0,166.2 988.0,174.3 989.0,165.6 990.0,173.2 991.0,166.5 992.0,173.8 993.0,165.7 994.0,174.1 995.0,166.2 996.0,173.1 997.0,166.2 998.0,173.5 999.0,165.4 1000.0,173.9 1001.0,164.7 1002.0,172.4 1003.1,166.2 1004.1,173.5 1005.1,166.4 1006.1,173.4 1007.1,165.9 1008.1,174.1 1009.1,165.7 1010.1,174.1 1011.1,165.8 1012.1,173.0 1013.1,166.5 1014.1,174.3 1015.1,166.0 1016.1,174.2 1017.1,166.0 1018.1,174.1 1019.1,167.1 1020.1,173.8 1021.1,166.1 1022.1,174.1 1023.1,166.3 1024.1,173.4 1025.2,165.7 1026.2,174.2 1027.2,166.4 1028.2,174.2 1029.2,165.8 1030.2,173.0 1031.2,166.4 1032.2,173.6 1033.2,165.7 1034.2,173.6 1035.2,166.3 1036.2,173.0 1037.2,166.6 1038.2,173.2 1039.2,165.9 1040.2,173.8 1041.2,165.9 1042.2,173.1 1043.2,166.5 1044.2,173.3 1045.2,166.0 1046.2,173.3 1047.3,166.0 1048.3,173.8 1049.3,166.5 1050.3,173.1 1051.3,166.1 1052.3,174.3 1053.3,165.5 1054.3,174.0 1055.3,165.9 1056.3,174.2 1057.3,165.6 1058.3,173.9 1059.3,165.9 1060.3,174.2 1061.3,166.5 1062.3,173.8 1063.3,166.7 1064.3,173.5 1065.3,166.0 1066.3,173.4 1067.3,165.0 1068.3,173.6 1069.4,166.0 1070.4,173.9 1071.4,166.0 1072.4,174.0 1073.4,166.8 1074.4,173.3 1075.4,166.1 1076.4,174.4 1077.4,166.6 1078.4,173.5 1079.4,167.1 1080.4,174.3 1081.4,166.9 1082.4,174.1 1083.4,166.2 1084.4,173.7 1085.4,166.9 1086.4,173.5 1087.4,165.9 1088.4,173.5 1089.4,166.0 1090.4,173.2 1091.5,166.5 1092.5,173.3 1093.5,165.7 1094.5,174.1 1095.5,165.1 1096.5,173.2 1097.5,165.2 1098.5,173.5 1099.5,166.0 1100.5,173.8 1101.5,166.8 1102.5,170.0"/>
<polyline stroke-width="5.5" points="1097.5,282.4 1098.5,290.6 1099.5,283.4 1100.5,290.1 1101.5,282.0 1102.6,290.7 1103.6,283.0 1104.6,290.5 1105.6,282.9 1106.6,290.2 1107.6,283.3 1108.6,290.5 1109.6,282.0 1110.7,290.6 1111.7,283.7 1112.7,290.2 1113.7,283.5 1114.7,290.7 1115.7,282.5 1116.7,289.7 1117.7,282.2 1118.8,290.7 1119.8,282.5 1120.8,290.9 1121.8,282.7 1122.8,290.2 1123.8,283.1 1124.8,291.1 1125.8,283.2 1126.8,290.7 1127.9,283.5 1128.9,290.6 1129.9,282.2 1130.9,290.1 1131.9,282.5 1132.9,290.6 1133.9,282.7 1134.9,290.7 1136.0,283.3 1137.0,290.0 1138.0,282.8 1139.0,289.7 1140.0,281.7 1141.0,289.9 1142.0,281.7 1143.0,289.8 1144.0,282.7 1145.1,290.3 1146.1,282.7 1147.1,290.0 1148.1,282.3 1149.1,290.7 1150.1,282.6 1151.1,290.1 1152.1,282.9 1153.2,290.4 1154.2,282.1 1155.2,289.6 1156.2,282.8 1157.2,290.2 1158.2,282.9 1159.2,290.0 1160.2,282.1 1161.3,289.9 1162.3,282.6 1163.3,291.0 1164.3,283.2 1165.3,286.7"/>
<polyline stroke-width="5.5" points="1160.3,399.5 1161.3,406.8 1162.3,399.1 1163.3,407.7 1164.3,399.5 1165.4,407.1 1166.4,399.5 1167.4,407.8 1168.4,399.7 1169.4,407.8 1170.4,399.3 1171.4,407.1 1172.4,399.7 1173.5,406.8 1174.5,400.0 1175.5,407.4 1176.5,399.1 1177.5,407.6 1178.5,400.2 1179.5,407.6 1180.5,399.7 1181.6,408.0 1182.6,399.8 1183.6,407.8 1184.6,400.6 1185.6,408.4 1186.6,399.3 1187.6,406.9 1188.6,399.1 1189.6,408.1 1190.7,400.1 1191.7,407.6 1192.7,399.0 1193.7,406.7 1194.7,399.3 1195.7,407.0 1196.7,399.5 1197.7,406.7 1198.8,399.2 1199.8,407.3 1200.8,398.4 1201.8,406.6 1202.8,398.7 1203.8,407.3 1204.8,399.6 1205.8,407.6 1206.8,398.7 1207.9,407.0 1208.9,399.3 1209.9,406.5 1210.9,398.7 1211.9,406.9 1212.9,398.9 1213.9,407.0 1214.9,399.4 1216.0,407.4 1217.0,399.7 1218.0,407.1 1219.0,400.0 1220.0,406.5 1221.0,399.4 1222.0,406.8 1223.0,398.7 1224.1,406.8 1225.1,399.4 1226.1,407.2 1227.1,400.3 1228.1,403.3"/>
<polyline stroke-width="5.5" points="1223.1,517.0 1224.1,524.6 1225.1,516.5 1226.1,525.0 1227.1,516.6 1228.2,525.4 1229.2,516.5 1230.2,525.4 1231.2,516.8 1232.2,525.4 1233.2,516.6 1234.2,525.3 1235.2,517.8 1236.3,525.6 1237.3,517.6 1238.3,524.4 1239.3,518.0 1240.3,524.4 1241.3,517.8 1242.3,524.8 1243.3,517.1 1244.4,524.1 1245.4,517.4 1246.4,524.5 1247.4,517.8 1248.4,524.7 1249.4,517.3 1250.4,525.1 1251.4,518.3 1252.4,524.9 1253.5,518.2 1254.5,525.5 1255.5,517.3 1256.5,525.9 1257.5,517.9 1258.5,525.2 1259.5,518.0 1260.5,525.4 1261.6,517.8 1262.6,525.2 1263.6,518.1 1264.6,525.3 1265.6,517.9 1266.6,525.7 1267.6,517.6 1268.6,525.8 1269.6,517.4 1270.7,525.6 1271.7,517.5 1272.7,526.1 1273.7,517.5 1274.7,525.6 1275.7,517.7 1276.7,524.9 1277.7,517.3 1278.8,525.2 1279.8,518.2 1280.8,524.8 1281.8,517.0 1282.8,525.0 1283.8,516.4 1284.8,524.9 1285.8,516.9 1286.9,525.8 1287.9,517.2 1288.9,524.8 1289.9,516.8 1290.9,521.0"/>
<polyline stroke-width="5.5" points="1285.9,636.8 1286.9,643.3 1287.9,635.5 1288.9,643.7 1289.9,635.7 1291.0,643.3 1292.0,635.2 1293.0,643.9 1294.0,636.1 1295.0,643.3 1296.0,635.8 1297.0,644.1 1298.0,635.8 1299.1,643.5 1300.1,635.8 1301.1,644.0 1302.1,635.9 1303.1,643.2 1304.1,636.2 1305.1,644.0 1306.1,636.1 1307.2,643.8 1308.2,635.6 1309.2,643.8 1310.2,636.3 1311.2,644.1 1312.2,635.9 1313.2,642.8 1314.2,635.9 1315.2,642.5 1316.3,636.0 1317.3,643.9 1318.3,636.4 1319.3,644.3 1320.3,636.1 1321.3,644.4 1322.3,636.6 1323.3,644.0 1324.4,636.0 1325.4,644.6 1326.4,636.6 1327.4,644.0 1328.4,636.1 1329.4,644.1 1330.4,636.9 1331.4,644.5 1332.4,636.8 1333.5,644.3 1334.5,636.0 1335.5,644.7 1336.5,636.1 1337.5,643.1 1338.5,635.8 1339.5,644.0 1340.5,637.4 1341.6,643.6 1342.6,636.1 1343.6,643.8 1344.6,636.3 1345.6,643.7 1346.6,635.2 1347.6,643.6 1348.6,636.5 1349.7,644.1 1350.7,636.8 1351.7,644.3 1352.7,635.9 1353.7,640.0"/>
<polyline stroke-width="5.5" points="1348.7,755.0 1349.7,762.0 1350.7,754.9 1351.7,762.3 1352.7,754.7 1353.8,763.2 1354.8,755.1 1355.8,762.9 1356.8,754.8 1357.8,762.7 1358.8,754.9 1359.8,762.4 1360.8,755.0 1361.9,762.2 1362.9,754.6 1363.9,762.5 1364.9,754.7 1365.9,762.6 1366.9,755.3 1367.9,762.6 1368.9,755.0 1370.0,762.3 1371.0,754.2 1372.0,763.0 1373.0,754.7 1374.0,762.6 1375.0,755.7 1376.0,763.6 1377.0,755.9 1378.0,763.6 1379.1,755.2 1380.1,763.5 1381.1,754.5 1382.1,762.7 1383.1,754.6 1384.1,762.4 1385.1,754.3 1386.1,762.9 1387.2,755.0 1388.2,762.4 1389.2,755.5 1390.2,762.4 1391.2,755.3 1392.2,762.6 1393.2,756.1 1394.2,762.3 1395.2,755.2 1396.3,762.7 1397.3,755.6 1398.3,762.8 1399.3,755.0 1400.3,762.4 1401.3,755.5 1402.3,762.9 1403.3,756.2 1404.4,762.8 1405.4,755.9 1406.4,763.5 1407.4,755.2 1408.4,762.7 1409.4,755.1 1410.4,763.0 1411.4,755.6 1412.5,762.1 1413.5,755.0 1414.5,762.9 1415.5,755.3 1416.5,759.0"/>
<polyline stroke-width="5.5" points="1411.5,870.3 1412.5,877.5 1413.5,870.2 1414.5,878.0 1415.5,870.7 1416.6,878.6 1417.6,870.4 1418.6,877.8 1419.6,870.3 1420.6,878.2 1421.6,870.2 1422.6,877.6 1423.6,870.7 1424.7,877.2 1425.7,871.0 1426.7,877.4 1427.7,870.4 1428.7,877.6 1429.7,869.6 1430.7,878.0 1431.7,869.5 1432.8,877.8 1433.8,869.5 1434.8,878.5 1435.8,869.7 1436.8,877.8 1437.8,869.3 1438.8,878.0 1439.8,869.9 1440.8,877.4 1441.9,869.4 1442.9,877.7 1443.9,870.2 1444.9,878.5 1445.9,870.6 1446.9,878.8 1447.9,869.5 1448.9,878.1 1450.0,869.8 1451.0,877.9 1452.0,870.5 1453.0,877.5 1454.0,870.1 1455.0,877.7 1456.0,870.7 1457.0,877.2 1458.0,870.3 1459.1,878.0 1460.1,869.7 1461.1,876.9 1462.1,869.2 1463.1,877.3 1464.1,869.8 1465.1,876.8 1466.1,869.4 1467.2,877.0 1468.2,869.5 1469.2,877.6 1470.2,870.8 1471.2,878.3 1472.2,870.4 1473.2,878.4 1474.2,870.9 1475.3,877.9 1476.3,870.3 1477.3,877.8 1478.3,870.6 1479.3,874.0"/>
<polyline stroke-width="5.5" points="1474.3,990.9 1475.3,999.4 1476.3,989.5 1477.3,999.7 1478.3,989.6 1479.4,999.3 1480.4,990.0 1481.4,998.4 1482.4,989.2 1483.4,1000.3 1484.4,990.5 1485.4,1000.2 1486.4,990.3 1487.5,1000.8 1488.5,991.3 1489.5,999.3 1490.5,991.3 1491.5,1000.2 1492.5,989.5 1493.5,1000.4 1494.5,990.5 1495.6,999.3 1496.6,991.1 1497.6,1000.3 1498.6,989.2 1499.6,999.6 1500.6,989.4 1501.6,999.7 1502.6,989.7 1503.6,999.6 1504.7,990.7 1505.7,999.8 1506.7,990.3 1507.7,999.5 1508.7,989.4 1509.7,998.9 1510.7,991.1 1511.7,1001.0 1512.8,990.1 1513.8,999.6 1514.8,990.8 1515.8,999.8 1516.8,991.2 1517.8,999.4 1518.8,990.9 1519.8,998.9 1520.8,991.0 1521.9,998.8 1522.9,990.3 1523.9,999.3 1524.9,989.7 1525.9,1000.2 1526.9,989.6 1527.9,999.7 1528.9,990.9 1530.0,999.6 1531.0,989.2 1532.0,998.6 1533.0,990.0 1534.0,999.3 1535.0,989.3 1536.0,998.9 1537.0,990.8 1538.1,1000.2 1539.1,990.0 1540.1,999.2 1541.1,991.3 1542.1,995.0"/>
<polyline stroke-width="5.5" points="1537.1,1106.1 1538.1,1123.4 1539.1,1107.5 1540.1,1122.4 1541.1,1104.7 1542.2,1122.5 1543.2,1106.6 1544.2,1122.8 1545.2,1105.9 1546.2,1124.0 1547.2,1108.3 1548.2,1124.7 1549.2,1106.8 1550.3,1121.9 1551.3,1107.0 1552.3,1124.3 1553.3,1108.9 1554.3,1122.8 1555.3,1108.5 1556.3,1123.1 1557.3,1107.5 1558.4,1123.6 1559.4,1105.8 1560.4,1122.7 1561.4,1106.6 1562.4,1121.5 1563.4,1108.6 1564.4,1123.0 1565.4,1107.5 1566.4,1124.6 1567.5,1108.5 1568.5,1123.7 1569.5,1107.8 1570.5,1124.6 1571.5,1105.5 1572.5,1123.8 1573.5,1107.3 1574.5,1122.3 1575.6,1108.6 1576.6,1124.0 1577.6,1106.6 1578.6,1123.2 1579.6,1108.5 1580.6,1122.5 1581.6,1106.1 1582.6,1123.9 1583.6,1106.7 1584.7,1123.9 1585.7,1108.4 1586.7,1124.3 1587.7,1105.9 1588.7,1123.9 1589.7,1108.8 1590.7,1123.8 1591.7,1108.7 1592.8,1122.6 1593.8,1107.9 1594.8,1122.6 1595.8,1106.0 1596.8,1123.4 1597.8,1106.5 1598.8,1122.1 1599.8,1108.2 1600.9,1123.1 1601.9,1105.9 1602.9,1124.3 1603.9,1105.0 1604.9,1115.0"/>
<polyline stroke-width="5.5" points="1599.9,1227.8 1600.9,1259.7 1601.9,1230.9 1602.9,1258.7 1603.9,1229.7 1605.0,1259.7 1606.0,1231.7 1607.0,1257.4 1608.0,1230.3 1609.0,1259.7 1610.0,1229.2 1611.0,1261.2 1612.0,1232.6 1613.1,1261.1 1614.1,1233.0 1615.1,1259.6 1616.1,1228.9 1617.1,1256.5 1618.1,1231.6 1619.1,1260.9 1620.1,1230.7 1621.2,1259.4 1622.2,1228.7 1623.2,1257.7 1624.2,1230.7 1625.2,1261.1 1626.2,1229.5 1627.2,1260.2 1628.2,1230.9 1629.2,1262.1 1630.3,1229.9 1631.3,1259.7 1632.3,1234.2 1633.3,1262.8 1634.3,1230.3 1635.3,1261.3 1636.3,1233.3 1637.3,1258.5 1638.4,1232.3 1639.4,1258.6 1640.4,1229.6 1641.4,1259.8 1642.4,1230.6 1643.4,1256.5 1644.4,1229.8 1645.4,1256.0 1646.4,1228.5 1647.5,1258.1 1648.5,1232.4 1649.5,1261.2 1650.5,1232.8 1651.5,1259.7 1652.5,1227.4 1653.5,1256.5 1654.5,1231.4 1655.6,1257.7 1656.6,1231.7 1657.6,1257.3 1658.6,1229.9 1659.6,1261.0 1660.6,1231.4 1661.6,1260.2 1662.6,1232.7 1663.7,1262.6 1664.7,1230.7 1665.7,1259.1 1666.7,1232.8 1667.7,1245.0"/>
<polyline stroke-width="5.5" points="1662.7,1314.6 1663.7,1343.6 1664.7,1311.6 1665.7,1339.3 1666.7,1312.7 1667.8,1342.4 1668.8,1311.9 1669.8,1337.5 1670.8,1310.3 1671.8,1339.4 1672.8,1313.0 1673.8,1338.8 1674.8,1314.1 1675.9,1339.4 1676.9,1315.1 1677.9,1340.4 1678.9,1311.2 1679.9,1338.8 1680.9,1317.1 1681.9,1341.5 1682.9,1315.7 1684.0,1342.3 1685.0,1312.7 1686.0,1340.2 1687.0,1312.0 1688.0,1341.6 1689.0,1314.6 1690.0,1339.3 1691.0,1314.5 1692.0,1340.7 1693.1,1311.7 1694.1,1339.5 1695.1,1311.9 1696.1,1338.1 1697.1,1311.7 1698.1,1337.2 1699.1,1309.9 1700.1,1340.6 1701.2,1311.7 1702.2,1338.8 1703.2,1312.8 1704.2,1341.0 1705.2,1315.0 1706.2,1339.4 1707.2,1313.2 1708.2,1340.3 1709.2,1316.6 1710.3,1344.9 1711.3,1313.9 1712.3,1345.2 1713.3,1314.2 1714.3,1344.4 1715.3,1317.0 1716.3,1338.8 1717.3,1315.5 1718.4,1342.2 1719.4,1313.4 1720.4,1342.1 1721.4,1312.7 1722.4,1340.9 1723.4,1315.3 1724.4,1338.2 1725.4,1311.5 1726.5,1340.6 1727.5,1314.6 1728.5,1338.7 1729.5,1313.4 1730.5,1327.0"/>
<line x1="406.2" y1="1324.0" x2="406.2" y2="1241.0" stroke-width="5.5" stroke-dasharray="9 5" stroke-opacity="0.90"/>
<line x1="469.0" y1="1241.0" x2="469.0" y2="1112.5" stroke-width="5.5" stroke-dasharray="12 5 5 5" stroke-opacity="0.90"/>
<line x1="531.8" y1="1112.5" x2="531.8" y2="995.0" stroke-width="5.5" stroke-opacity="0.90"/>
<line x1="594.6" y1="995.0" x2="594.6" y2="874.0" stroke-width="5.5" stroke-opacity="0.90"/>
<line x1="657.4" y1="874.0" x2="657.4" y2="759.0" stroke-width="5.5" stroke-opacity="0.90"/>
<line x1="720.2" y1="759.0" x2="720.2" y2="640.0" stroke-width="5.5" stroke-opacity="0.90"/>
<line x1="783.0" y1="640.0" x2="783.0" y2="521.0" stroke-width="5.5" stroke-opacity="0.90"/>
<line x1="845.8" y1="521.0" x2="845.8" y2="403.3" stroke-width="5.5" stroke-opacity="0.90"/>
<line x1="908.6" y1="403.3" x2="908.6" y2="286.7" stroke-width="5.5" stroke-opacity="0.90"/>
<line x1="971.4" y1="286.7" x2="971.4" y2="170.0" stroke-width="5.5" stroke-opacity="0.90"/>
<line x1="1100.0" y1="170.0" x2="1100.0" y2="286.7" stroke-width="5.5" stroke-opacity="0.90"/>
<line x1="1162.8" y1="286.7" x2="1162.8" y2="403.3" stroke-width="5.5" stroke-opacity="0.90"/>
<line x1="1225.6" y1="403.3" x2="1225.6" y2="521.0" stroke-width="5.5" stroke-opacity="0.90"/>
<line x1="1288.4" y1="521.0" x2="1288.4" y2="640.0" stroke-width="5.5" stroke-opacity="0.90"/>
<line x1="1351.2" y1="640.0" x2="1351.2" y2="759.0" stroke-width="5.5" stroke-opacity="0.90"/>
<line x1="1414.0" y1="759.0" x2="1414.0" y2="874.0" stroke-width="5.5" stroke-opacity="0.90"/>
<line x1="1476.8" y1="874.0" x2="1476.8" y2="995.0" stroke-width="5.5" stroke-opacity="0.90"/>
<line x1="1539.6" y1="995.0" x2="1539.6" y2="1115.0" stroke-width="5.5" stroke-opacity="0.90"/>
<line x1="1602.4" y1="1115.0" x2="1602.4" y2="1245.0" stroke-width="5.5" stroke-dasharray="10 5 5 5" stroke-opacity="0.90"/>
<line x1="1665.2" y1="1245.0" x2="1665.2" y2="1327.0" stroke-width="5.5" stroke-dasharray="8 5" stroke-opacity="0.90"/>
<line x1="1728.0" y1="1341.0" x2="1728.0" y2="1402.5" stroke-width="5.5" stroke-dasharray="5 9"/>
</g>
<g fill="none" stroke="#000" stroke-width="3.5">
<line x1="280.3" y1="45.0" x2="1933.7" y2="45.0"/>
<line x1="343.4" y1="1402.5" x2="1728.0" y2="1402.5"/>
<line x1="1792.0" y1="1402.5" x2="1933.7" y2="1402.5"/>
<line x1="282.6" y1="45.0" x2="282.6" y2="1404.8"/>
<line x1="697.5" y1="45.0" x2="697.5" y2="64.5"/>
<line x1="697.5" y1="1402.5" x2="697.5" y2="1386.5"/>
<line x1="1116.3" y1="45.0" x2="1116.3" y2="64.5"/>
<line x1="1116.3" y1="1402.5" x2="1116.3" y2="1386.5"/>
<line x1="1532.0" y1="45.0" x2="1532.0" y2="64.5"/>
<line x1="1532.0" y1="1402.5" x2="1532.0" y2="1386.5"/>
<line x1="282.6" y1="316.7" x2="298.6" y2="316.7"/>
<line x1="282.6" y1="590.0" x2="298.6" y2="590.0"/>
<line x1="282.6" y1="861.5" x2="298.6" y2="861.5"/>
</g>
<g fill="none" stroke="#0000ff" stroke-width="3.5">
<line x1="1947.7" y1="42.7" x2="1947.7" y2="1404.8"/>
<line x1="1931.7" y1="45.0" x2="1947.7" y2="45.0"/>
<line x1="1931.7" y1="316.7" x2="1947.7" y2="316.7"/>
<line x1="1931.7" y1="590.0" x2="1947.7" y2="590.0"/>
<line x1="1931.7" y1="861.5" x2="1947.7" y2="861.5"/>
<line x1="1931.7" y1="1134.0" x2="1947.7" y2="1134.0"/>
<line x1="1931.7" y1="1402.5" x2="1947.7" y2="1402.5"/>
</g>
<g font-size="73" letter-spacing="1.7" fill="#000" text-anchor="end">
<text x="256.6" y="78.5">200</text>
<text x="256.6" y="350.0">150</text>
<text x="256.6" y="621.5">100</text>
<text x="256.6" y="892.0">50</text>
<text x="256.6" y="1163.5">0</text>
<text x="256.6" y="1435.0">-50</text>
</g>
<g font-size="73" letter-spacing="1.7" fill="#0000ff" text-anchor="start">
<text x="1974.5" y="78.5">10</text>
<text x="1974.5" y="350.0">8</text>
<text x="1974.5" y="621.5">6</text>
<text x="1974.5" y="892.0">4</text>
<text x="1974.5" y="1163.5">2</text>
<text x="1974.5" y="1435.0">0</text>
</g>
<g font-size="73" letter-spacing="1.7" fill="#262626" text-anchor="middle">
<text x="280.9" y="1505">0</text>
<text x="700.9" y="1505">1000</text>
<text x="1113.8" y="1505">2000</text>
<text x="1532.6" y="1505">3000</text>
<text x="1949.1" y="1505">4000</text>
</g>
<text x="1113" y="1614" font-size="84" fill="#262626" text-anchor="middle">Time (s)</text>
<text transform="translate(94.5,725) rotate(-90)" font-size="81.5" fill="#000" text-anchor="middle">Pressure (Pa)</text>
<text transform="translate(2158,728) rotate(-90)" font-size="83" fill="#0000ff" text-anchor="middle">Velocity, U<tspan font-size="58" dy="36" dx="3">o</tspan><tspan dy="-36" dx="3"> (mm/s)</tspan></text>
<g fill="none">
<line x1="1533.7" y1="135.6" x2="1676" y2="135.6" stroke="#000" stroke-width="5.5" stroke-dasharray="28.5 10 6.5 12"/>
<line x1="1534.5" y1="223.4" x2="1676" y2="223.4" stroke="#00ffff" stroke-width="4.6" stroke-dasharray="34 22"/>
<line x1="1533.7" y1="313.6" x2="1676" y2="313.6" stroke="#ff00ff" stroke-width="5.5"/>
<line x1="1533.7" y1="415.1" x2="1678" y2="415.1" stroke="#0000ff" stroke-width="3.8" stroke-dasharray="3.8 10.2"/>
</g>
<g font-size="66.5" fill="#000">
<text x="1685.5" y="162.4">Upper</text>
<text x="1685.5" y="253.3">Middle</text>
<text x="1685.5" y="340.4">Lower</text>
<text x="1685.5" y="431.8">U<tspan font-size="48" dy="29.5" dx="2">o</tspan></text>
</g>
</svg>
</body></html>
